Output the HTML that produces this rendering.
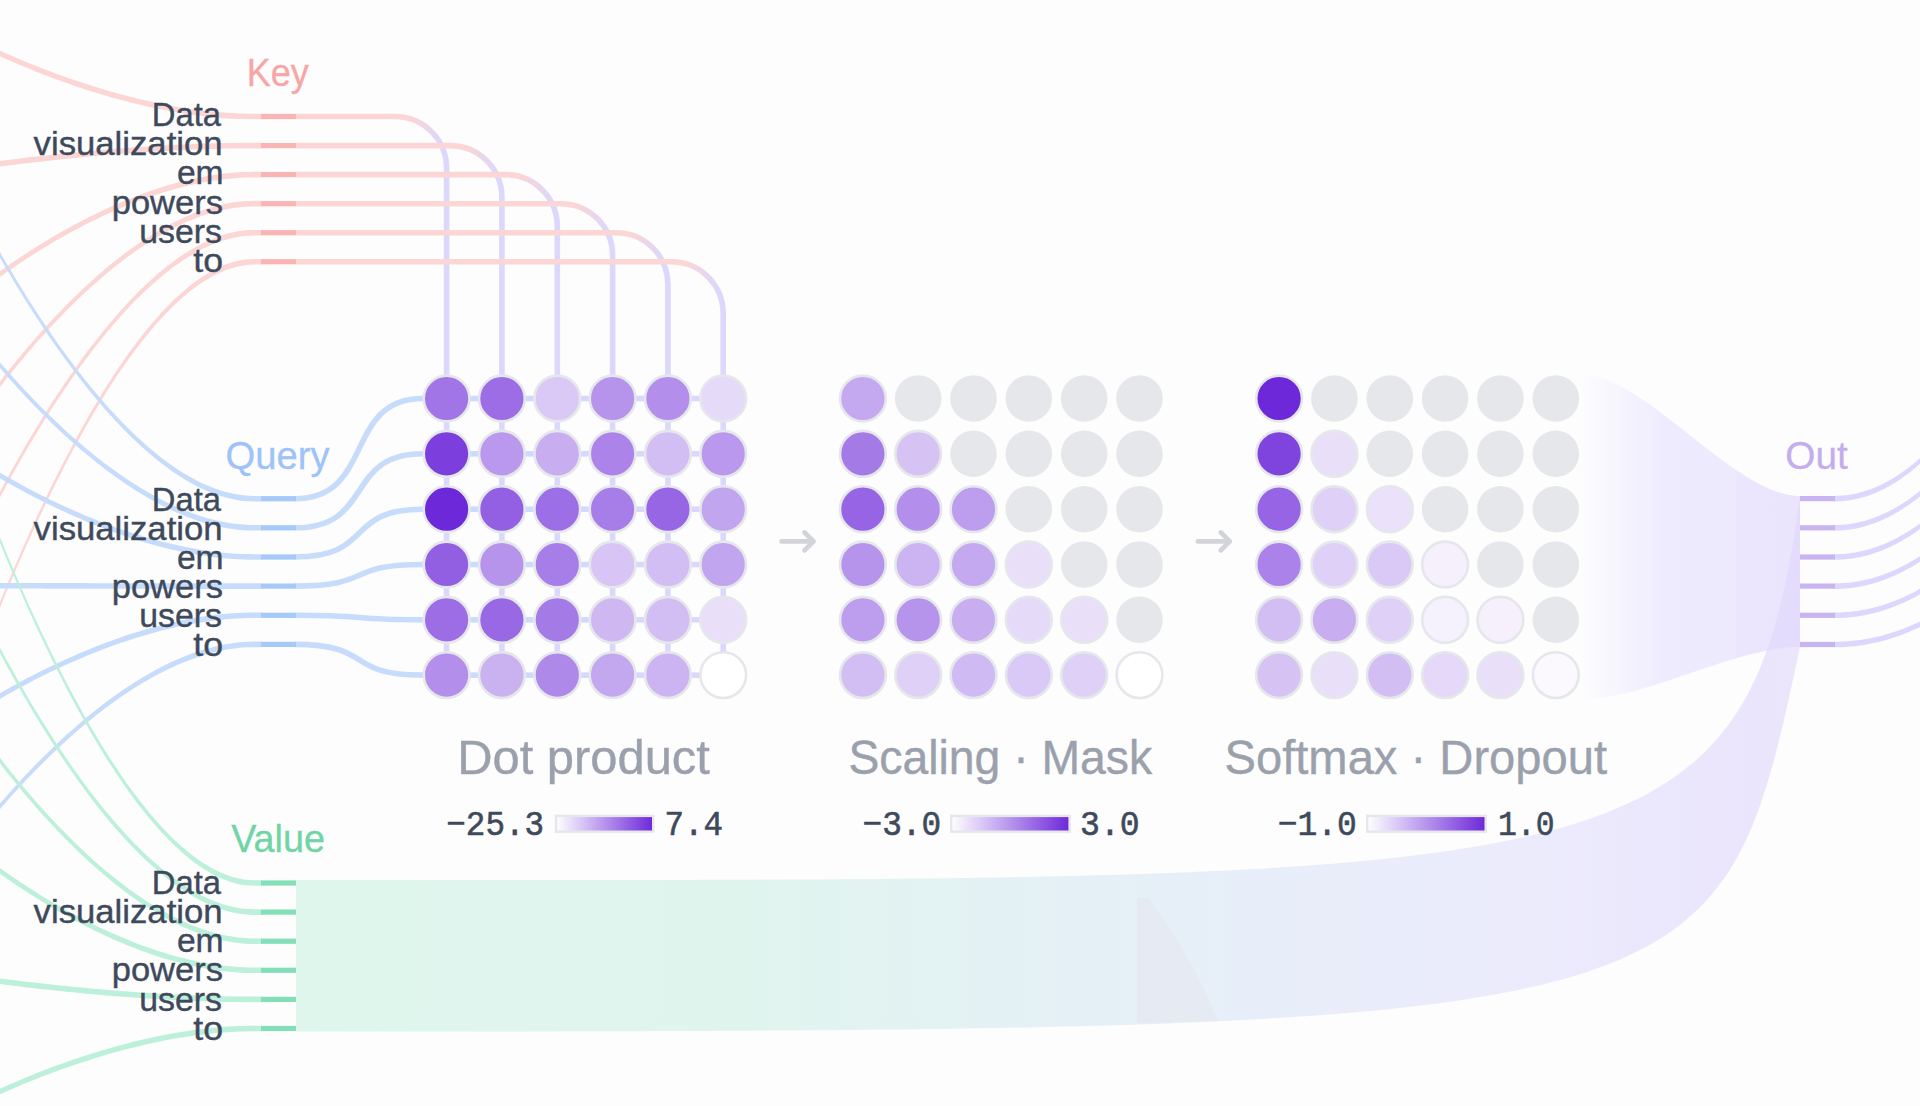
<!DOCTYPE html>
<html><head><meta charset="utf-8"><title>Attention</title><style>
html,body{margin:0;padding:0;background:#fdfdfd;overflow:hidden;}
svg{display:block;}
.tok{font-family:"Liberation Sans",sans-serif;font-size:33.3px;stroke-width:0.4px;}
.lbl{font-family:"Liberation Sans",sans-serif;font-size:39.1px;stroke-width:0.3px;}
.title{font-family:"Liberation Sans",sans-serif;font-size:48.8px;stroke-width:0.4px;}
.mono{font-family:"Liberation Mono",monospace;font-size:35px;stroke-width:0.6px;}
</style></head>
<body><svg width="1920" height="1106" viewBox="0 0 1920 1106">
<defs>
<linearGradient id="gSoft" x1="1580" y1="0" x2="1800" y2="0" gradientUnits="userSpaceOnUse">
 <stop offset="0" stop-color="#efebfe" stop-opacity="0"/>
 <stop offset="0.38" stop-color="#efebfe" stop-opacity="1"/>
 <stop offset="0.7" stop-color="#eeeafe" stop-opacity="1"/>
 <stop offset="0.72" stop-color="#ebe5fd" stop-opacity="1"/>
 <stop offset="1" stop-color="#eae4fd" stop-opacity="1"/>
</linearGradient>
<linearGradient id="gVal" x1="296" y1="0" x2="1800" y2="0" gradientUnits="userSpaceOnUse">
 <stop offset="0" stop-color="#ddf6ec" stop-opacity="0.95"/>
 <stop offset="0.3" stop-color="#dff4ee" stop-opacity="0.95"/>
 <stop offset="0.62" stop-color="#e6eef9" stop-opacity="0.95"/>
 <stop offset="0.85" stop-color="#ebe9fc" stop-opacity="0.95"/>
 <stop offset="1" stop-color="#dfd6fb" stop-opacity="0.6"/>
</linearGradient>
<linearGradient id="gLeg" x1="0" y1="0" x2="1" y2="0">
 <stop offset="0" stop-color="#ffffff"/>
 <stop offset="1" stop-color="#6d28d9"/>
</linearGradient>
<linearGradient id="gQrow" x1="0" y1="0" x2="1" y2="0">
 <stop offset="0" stop-color="#c7dcfb"/>
 <stop offset="1" stop-color="#dcd7fd"/>
</linearGradient>
<linearGradient id="gK0" x1="296" y1="0" x2="449.6" y2="0" gradientUnits="userSpaceOnUse">
 <stop offset="0" stop-color="#fcd5d5"/><stop offset="0.740" stop-color="#fcd5d5"/><stop offset="0.948" stop-color="#dcd7fd"/><stop offset="1" stop-color="#dcd7fd"/></linearGradient>
<linearGradient id="gK1" x1="296" y1="0" x2="504.9" y2="0" gradientUnits="userSpaceOnUse">
 <stop offset="0" stop-color="#fcd5d5"/><stop offset="0.809" stop-color="#fcd5d5"/><stop offset="0.962" stop-color="#dcd7fd"/><stop offset="1" stop-color="#dcd7fd"/></linearGradient>
<linearGradient id="gK2" x1="296" y1="0" x2="560.3" y2="0" gradientUnits="userSpaceOnUse">
 <stop offset="0" stop-color="#fcd5d5"/><stop offset="0.849" stop-color="#fcd5d5"/><stop offset="0.970" stop-color="#dcd7fd"/><stop offset="1" stop-color="#dcd7fd"/></linearGradient>
<linearGradient id="gK3" x1="296" y1="0" x2="615.6" y2="0" gradientUnits="userSpaceOnUse">
 <stop offset="0" stop-color="#fcd5d5"/><stop offset="0.875" stop-color="#fcd5d5"/><stop offset="0.975" stop-color="#dcd7fd"/><stop offset="1" stop-color="#dcd7fd"/></linearGradient>
<linearGradient id="gK4" x1="296" y1="0" x2="670.9" y2="0" gradientUnits="userSpaceOnUse">
 <stop offset="0" stop-color="#fcd5d5"/><stop offset="0.893" stop-color="#fcd5d5"/><stop offset="0.979" stop-color="#dcd7fd"/><stop offset="1" stop-color="#dcd7fd"/></linearGradient>
<linearGradient id="gK5" x1="296" y1="0" x2="726.2" y2="0" gradientUnits="userSpaceOnUse">
 <stop offset="0" stop-color="#fcd5d5"/><stop offset="0.907" stop-color="#fcd5d5"/><stop offset="0.981" stop-color="#dcd7fd"/><stop offset="1" stop-color="#dcd7fd"/></linearGradient>
</defs>
<rect width="1920" height="1106" fill="#fdfdfd"/>
<path d="M1580.0,374.4 L1583.4,374.5 L1586.8,374.8 L1590.2,375.3 L1593.7,376.0 L1597.2,376.9 L1600.8,377.9 L1604.3,379.1 L1608.0,380.5 L1611.6,382.0 L1615.2,383.7 L1618.9,385.5 L1622.6,387.4 L1626.4,389.5 L1630.1,391.7 L1633.9,394.0 L1637.7,396.4 L1641.5,398.9 L1645.3,401.4 L1649.1,404.1 L1653.0,406.8 L1656.9,409.6 L1660.7,412.5 L1664.6,415.4 L1668.5,418.4 L1672.4,421.4 L1676.3,424.4 L1680.2,427.5 L1684.1,430.6 L1688.0,433.7 L1692.0,436.7 L1695.9,439.8 L1699.8,442.9 L1703.7,446.0 L1707.6,449.0 L1711.5,452.0 L1715.4,455.0 L1719.3,457.9 L1723.1,460.8 L1727.0,463.6 L1730.9,466.3 L1734.7,469.0 L1738.5,471.5 L1742.3,474.0 L1746.1,476.4 L1749.9,478.7 L1753.6,480.9 L1757.4,483.0 L1761.1,484.9 L1764.8,486.7 L1768.4,488.4 L1772.0,489.9 L1775.7,491.3 L1779.2,492.5 L1782.8,493.5 L1786.3,494.4 L1789.8,495.1 L1793.2,495.6 L1796.6,495.9 L1800.0,496.0 L1800.0,647.1 L1796.6,647.1 L1793.2,647.3 L1789.8,647.5 L1786.3,647.8 L1782.8,648.2 L1779.2,648.6 L1775.7,649.1 L1772.0,649.7 L1768.4,650.4 L1764.8,651.1 L1761.1,651.9 L1757.4,652.7 L1753.6,653.6 L1749.9,654.6 L1746.1,655.5 L1742.3,656.6 L1738.5,657.6 L1734.7,658.8 L1730.9,659.9 L1727.0,661.1 L1723.1,662.3 L1719.3,663.5 L1715.4,664.8 L1711.5,666.1 L1707.6,667.4 L1703.7,668.7 L1699.8,670.0 L1695.9,671.3 L1692.0,672.6 L1688.0,674.0 L1684.1,675.3 L1680.2,676.6 L1676.3,677.9 L1672.4,679.2 L1668.5,680.5 L1664.6,681.8 L1660.7,683.1 L1656.9,684.3 L1653.0,685.5 L1649.1,686.7 L1645.3,687.8 L1641.5,689.0 L1637.7,690.0 L1633.9,691.1 L1630.1,692.0 L1626.4,693.0 L1622.6,693.9 L1618.9,694.7 L1615.2,695.5 L1611.6,696.2 L1608.0,696.9 L1604.3,697.5 L1600.8,698.0 L1597.2,698.4 L1593.7,698.8 L1590.2,699.1 L1586.8,699.3 L1583.4,699.5 L1580.0,699.5Z" fill="url(#gSoft)"/>
<path d="M296.0,880.0 L321.0,880.0 L345.7,880.0 L370.1,880.0 L394.2,880.0 L418.1,880.0 L441.6,880.0 L464.9,880.0 L487.9,880.0 L510.7,880.0 L533.1,880.0 L555.3,880.0 L577.2,880.0 L598.9,880.0 L620.3,880.0 L641.4,880.0 L662.3,879.9 L682.9,879.9 L703.3,879.8 L723.3,879.8 L743.2,879.7 L762.8,879.6 L782.1,879.6 L801.2,879.5 L820.0,879.4 L838.6,879.2 L856.9,879.1 L875.0,879.0 L892.9,878.8 L910.5,878.6 L927.9,878.4 L945.0,878.2 L961.9,878.0 L978.6,877.8 L995.1,877.5 L1011.3,877.2 L1027.3,876.9 L1043.0,876.6 L1058.6,876.3 L1073.9,875.9 L1089.0,875.5 L1103.8,875.1 L1118.5,874.7 L1132.9,874.3 L1147.2,873.8 L1161.2,873.3 L1175.0,872.8 L1188.6,872.2 L1202.0,871.6 L1215.1,871.0 L1228.1,870.4 L1240.9,869.8 L1253.5,869.1 L1265.8,868.4 L1278.0,867.6 L1290.0,866.8 L1301.8,866.0 L1313.4,865.2 L1324.8,864.3 L1336.0,863.4 L1347.0,862.5 L1357.9,861.5 L1368.6,860.5 L1379.0,859.4 L1389.3,858.3 L1399.5,857.2 L1409.4,856.0 L1419.2,854.8 L1428.8,853.6 L1438.2,852.3 L1447.5,851.0 L1456.6,849.6 L1465.5,848.2 L1474.2,846.8 L1482.8,845.3 L1491.3,843.8 L1499.5,842.2 L1507.7,840.6 L1515.6,838.9 L1523.4,837.2 L1531.1,835.5 L1538.6,833.7 L1546.0,831.8 L1553.2,829.9 L1560.2,828.0 L1567.1,826.0 L1573.9,823.9 L1580.6,821.8 L1587.1,819.7 L1593.4,817.5 L1599.6,815.2 L1605.7,812.9 L1611.7,810.5 L1617.5,808.1 L1623.2,805.6 L1628.8,803.1 L1634.2,800.5 L1639.6,797.9 L1644.8,795.2 L1649.9,792.4 L1654.8,789.6 L1659.7,786.7 L1664.4,783.8 L1669.0,780.8 L1673.5,777.7 L1677.9,774.6 L1682.2,771.4 L1686.4,768.1 L1690.5,764.8 L1694.5,761.4 L1698.3,758.0 L1702.1,754.5 L1705.8,750.9 L1709.4,747.2 L1712.9,743.5 L1716.3,739.7 L1719.6,735.9 L1722.8,732.0 L1725.9,728.0 L1729.0,723.9 L1731.9,719.8 L1734.8,715.6 L1737.6,711.3 L1740.3,706.9 L1743.0,702.5 L1745.5,698.0 L1748.0,693.4 L1750.4,688.8 L1752.8,684.1 L1755.1,679.2 L1757.3,674.4 L1759.4,669.4 L1761.5,664.4 L1763.5,659.2 L1765.5,654.0 L1767.4,648.7 L1769.2,643.4 L1771.0,637.9 L1772.8,632.4 L1774.4,626.8 L1776.1,621.1 L1777.7,615.3 L1779.2,609.4 L1780.7,603.5 L1782.2,597.4 L1783.6,591.3 L1785.0,585.1 L1786.3,578.8 L1787.6,572.4 L1788.9,565.9 L1790.1,559.3 L1791.3,552.7 L1792.5,545.9 L1793.6,539.1 L1794.7,532.1 L1795.8,525.1 L1796.9,518.0 L1798.0,510.7 L1799.0,503.4 L1800.0,496.0 L1800.0,647.1 L1798.5,654.2 L1796.9,661.3 L1795.4,668.3 L1794.0,675.1 L1792.5,681.9 L1791.0,688.6 L1789.6,695.3 L1788.1,701.8 L1786.6,708.2 L1785.2,714.6 L1783.7,720.9 L1782.3,727.1 L1780.8,733.2 L1779.3,739.2 L1777.8,745.2 L1776.3,751.0 L1774.8,756.8 L1773.3,762.5 L1771.7,768.1 L1770.1,773.7 L1768.5,779.2 L1766.9,784.6 L1765.2,789.9 L1763.5,795.1 L1761.8,800.3 L1760.1,805.4 L1758.2,810.4 L1756.4,815.3 L1754.5,820.2 L1752.6,824.9 L1750.6,829.7 L1748.6,834.3 L1746.5,838.9 L1744.4,843.4 L1742.2,847.8 L1739.9,852.2 L1737.6,856.5 L1735.2,860.7 L1732.8,864.8 L1730.3,868.9 L1727.7,872.9 L1725.1,876.9 L1722.3,880.8 L1719.5,884.6 L1716.7,888.3 L1713.7,892.0 L1710.6,895.7 L1707.5,899.2 L1704.3,902.7 L1701.0,906.1 L1697.6,909.5 L1694.1,912.8 L1690.5,916.1 L1686.8,919.3 L1683.0,922.4 L1679.1,925.5 L1675.1,928.5 L1671.0,931.5 L1666.7,934.4 L1662.4,937.2 L1657.9,940.0 L1653.4,942.7 L1648.7,945.4 L1643.8,948.0 L1638.9,950.6 L1633.8,953.1 L1628.6,955.6 L1623.3,958.0 L1617.9,960.4 L1612.3,962.7 L1606.5,964.9 L1600.6,967.1 L1594.6,969.3 L1588.5,971.4 L1582.2,973.5 L1575.7,975.5 L1569.1,977.5 L1562.3,979.4 L1555.4,981.3 L1548.3,983.1 L1541.1,984.9 L1533.7,986.6 L1526.1,988.3 L1518.4,990.0 L1510.5,991.6 L1502.4,993.1 L1494.2,994.7 L1485.7,996.1 L1477.1,997.6 L1468.3,999.0 L1459.4,1000.4 L1450.2,1001.7 L1440.9,1003.0 L1431.3,1004.2 L1421.6,1005.4 L1411.7,1006.6 L1401.6,1007.8 L1391.3,1008.9 L1380.8,1009.9 L1370.0,1011.0 L1359.1,1012.0 L1348.0,1012.9 L1336.6,1013.9 L1325.1,1014.8 L1313.3,1015.7 L1301.3,1016.5 L1289.1,1017.3 L1276.7,1018.1 L1264.0,1018.9 L1251.2,1019.6 L1238.1,1020.3 L1224.7,1020.9 L1211.1,1021.6 L1197.3,1022.2 L1183.3,1022.8 L1169.0,1023.4 L1154.5,1023.9 L1139.7,1024.4 L1124.7,1024.9 L1109.4,1025.4 L1093.9,1025.8 L1078.2,1026.2 L1062.1,1026.6 L1045.8,1027.0 L1029.3,1027.4 L1012.5,1027.7 L995.4,1028.0 L978.1,1028.3 L960.5,1028.6 L942.6,1028.9 L924.5,1029.1 L906.0,1029.4 L887.3,1029.6 L868.3,1029.8 L849.1,1030.0 L829.5,1030.2 L809.7,1030.3 L789.6,1030.5 L769.1,1030.6 L748.4,1030.7 L727.4,1030.8 L706.1,1030.9 L684.5,1031.0 L662.6,1031.1 L640.4,1031.2 L617.8,1031.2 L595.0,1031.3 L571.9,1031.3 L548.4,1031.4 L524.6,1031.4 L500.5,1031.4 L476.1,1031.4 L451.4,1031.5 L426.3,1031.5 L400.9,1031.5 L375.2,1031.5 L349.1,1031.5 L322.7,1031.5 L296.0,1031.5Z" fill="url(#gVal)"/>
<path d="M1137,898 L1148,898 C1170,925 1200,975 1218,1021 L1137,1023 Z" fill="#e4e6ee" opacity="0.55"/>
<path d="M-39.3,31.4 L-39.3,31.5 L-39.1,31.6 L-38.7,31.8 L-38.2,32.1 L-37.6,32.4 L-36.8,32.8 L-36.0,33.3 L-34.9,33.8 L-33.8,34.4 L-32.5,35.1 L-31.1,35.8 L-29.6,36.6 L-28.0,37.4 L-26.2,38.3 L-24.3,39.2 L-22.3,40.2 L-20.2,41.2 L-18.0,42.3 L-15.7,43.4 L-13.3,44.6 L-10.7,45.8 L-8.1,47.0 L-5.3,48.3 L-2.5,49.6 L0.5,50.9 L3.5,52.3 L6.6,53.7 L9.9,55.1 L13.2,56.6 L16.6,58.0 L20.1,59.5 L23.7,61.0 L27.3,62.5 L31.1,64.0 L34.9,65.6 L38.8,67.1 L42.8,68.7 L46.9,70.2 L51.0,71.8 L55.2,73.4 L59.5,74.9 L63.8,76.5 L68.2,78.0 L72.7,79.6 L77.2,81.1 L81.8,82.6 L86.4,84.1 L91.1,85.6 L95.9,87.1 L100.7,88.6 L105.5,90.0 L110.4,91.4 L115.4,92.8 L120.4,94.2 L125.4,95.5 L130.5,96.8 L135.6,98.1 L140.8,99.4 L146.0,100.6 L151.2,101.7 L156.5,102.8 L161.7,103.9 L167.1,104.9 L172.4,105.9 L177.8,106.9 L183.2,107.8 L188.6,108.6 L194.0,109.4 L199.4,110.1 L204.9,110.7 L210.4,111.3 L215.9,111.9 L221.3,112.3 L226.9,112.8 L232.4,113.1 L237.9,113.4 L243.4,113.5 L248.9,113.7 L254.4,113.7 L262.0,113.7 L262.0,119.3 L254.4,119.3 L248.9,119.3 L243.4,119.1 L237.9,119.0 L232.4,118.7 L226.9,118.4 L221.3,117.9 L215.9,117.5 L210.4,116.9 L204.9,116.3 L199.4,115.7 L194.0,115.0 L188.6,114.2 L183.2,113.4 L177.8,112.5 L172.4,111.5 L167.1,110.5 L161.7,109.5 L156.5,108.4 L151.2,107.3 L146.0,106.2 L140.8,105.0 L135.6,103.7 L130.5,102.4 L125.4,101.1 L120.4,99.8 L115.4,98.4 L110.4,97.0 L105.5,95.6 L100.7,94.2 L95.9,92.7 L91.1,91.2 L86.4,89.7 L81.8,88.2 L77.2,86.7 L72.7,85.2 L68.2,83.6 L63.8,82.1 L59.5,80.5 L55.2,79.0 L51.0,77.4 L46.9,75.8 L42.8,74.3 L38.8,72.7 L34.9,71.2 L31.1,69.6 L27.3,68.1 L23.7,66.6 L20.1,65.1 L16.6,63.6 L13.2,62.2 L9.9,60.7 L6.6,59.3 L3.5,57.9 L0.5,56.5 L-2.5,55.2 L-5.3,53.9 L-8.1,52.6 L-10.7,51.4 L-13.3,50.2 L-15.7,49.0 L-18.0,47.9 L-20.2,46.8 L-22.3,45.8 L-24.3,44.8 L-26.2,43.9 L-28.0,43.0 L-29.6,42.2 L-31.1,41.4 L-32.5,40.7 L-33.8,40.0 L-34.9,39.4 L-36.0,38.9 L-36.8,38.4 L-37.6,38.0 L-38.2,37.7 L-38.7,37.4 L-39.1,37.2 L-39.3,37.1 L-39.3,37.0Z" fill="#fcd5d5"/>
<path d="M-39.3,166.6 L-39.3,166.6 L-39.1,166.5 L-38.7,166.5 L-38.2,166.4 L-37.6,166.3 L-36.8,166.2 L-36.0,166.1 L-34.9,165.9 L-33.8,165.7 L-32.5,165.5 L-31.1,165.3 L-29.6,165.1 L-28.0,164.9 L-26.2,164.6 L-24.3,164.3 L-22.3,164.1 L-20.2,163.8 L-18.0,163.4 L-15.7,163.1 L-13.3,162.8 L-10.7,162.4 L-8.1,162.1 L-5.3,161.7 L-2.5,161.3 L0.5,160.9 L3.5,160.5 L6.6,160.1 L9.9,159.7 L13.2,159.3 L16.6,158.9 L20.1,158.5 L23.7,158.0 L27.3,157.6 L31.1,157.1 L34.9,156.7 L38.8,156.3 L42.8,155.8 L46.9,155.4 L51.0,154.9 L55.2,154.4 L59.5,154.0 L63.8,153.5 L68.2,153.1 L72.7,152.6 L77.2,152.2 L81.8,151.8 L86.4,151.3 L91.1,150.9 L95.9,150.5 L100.7,150.0 L105.5,149.6 L110.4,149.2 L115.4,148.8 L120.4,148.4 L125.4,148.0 L130.5,147.6 L135.6,147.3 L140.8,146.9 L146.0,146.6 L151.2,146.2 L156.5,145.9 L161.7,145.6 L167.1,145.3 L172.4,145.0 L177.8,144.7 L183.2,144.5 L188.6,144.2 L194.0,144.0 L199.4,143.8 L204.9,143.6 L210.4,143.4 L215.9,143.3 L221.3,143.1 L226.9,143.0 L232.4,142.9 L237.9,142.9 L243.4,142.8 L248.9,142.8 L254.4,142.8 L262.0,142.8 L262.0,148.4 L254.4,148.4 L248.9,148.4 L243.4,148.4 L237.9,148.5 L232.4,148.5 L226.9,148.6 L221.3,148.7 L215.9,148.9 L210.4,149.0 L204.9,149.2 L199.4,149.4 L194.0,149.6 L188.6,149.8 L183.2,150.1 L177.8,150.3 L172.4,150.6 L167.1,150.9 L161.7,151.2 L156.5,151.5 L151.2,151.8 L146.0,152.2 L140.8,152.5 L135.6,152.9 L130.5,153.2 L125.4,153.6 L120.4,154.0 L115.4,154.4 L110.4,154.8 L105.5,155.2 L100.7,155.6 L95.9,156.1 L91.1,156.5 L86.4,156.9 L81.8,157.4 L77.2,157.8 L72.7,158.2 L68.2,158.7 L63.8,159.1 L59.5,159.6 L55.2,160.0 L51.0,160.5 L46.9,161.0 L42.8,161.4 L38.8,161.9 L34.9,162.3 L31.1,162.7 L27.3,163.2 L23.7,163.6 L20.1,164.1 L16.6,164.5 L13.2,164.9 L9.9,165.3 L6.6,165.7 L3.5,166.1 L0.5,166.5 L-2.5,166.9 L-5.3,167.3 L-8.1,167.7 L-10.7,168.0 L-13.3,168.4 L-15.7,168.7 L-18.0,169.0 L-20.2,169.4 L-22.3,169.7 L-24.3,169.9 L-26.2,170.2 L-28.0,170.5 L-29.6,170.7 L-31.1,170.9 L-32.5,171.1 L-33.8,171.3 L-34.9,171.5 L-36.0,171.7 L-36.8,171.8 L-37.6,171.9 L-38.2,172.0 L-38.7,172.1 L-39.1,172.1 L-39.3,172.2 L-39.3,172.2Z" fill="#fcd5d5"/>
<path d="M-39.3,301.7 L-39.3,301.7 L-39.1,301.5 L-38.7,301.2 L-38.2,300.8 L-37.6,300.3 L-36.8,299.6 L-36.0,298.9 L-34.9,298.0 L-33.8,297.1 L-32.5,296.0 L-31.1,294.9 L-29.6,293.7 L-28.0,292.3 L-26.2,291.0 L-24.3,289.5 L-22.3,287.9 L-20.2,286.3 L-18.0,284.6 L-15.7,282.8 L-13.3,281.0 L-10.7,279.1 L-8.1,277.1 L-5.3,275.1 L-2.5,273.1 L0.5,270.9 L3.5,268.8 L6.6,266.6 L9.9,264.3 L13.2,262.1 L16.6,259.8 L20.1,257.4 L23.7,255.1 L27.3,252.7 L31.1,250.3 L34.9,247.8 L38.8,245.4 L42.8,242.9 L46.9,240.5 L51.0,238.0 L55.2,235.5 L59.5,233.1 L63.8,230.6 L68.2,228.2 L72.7,225.7 L77.2,223.3 L81.8,220.9 L86.4,218.5 L91.1,216.1 L95.9,213.8 L100.7,211.5 L105.5,209.2 L110.4,207.0 L115.4,204.8 L120.4,202.6 L125.4,200.5 L130.5,198.4 L135.6,196.4 L140.8,194.5 L146.0,192.6 L151.2,190.7 L156.5,189.0 L161.7,187.3 L167.1,185.6 L172.4,184.1 L177.8,182.6 L183.2,181.2 L188.6,179.9 L194.0,178.7 L199.4,177.5 L204.9,176.5 L210.4,175.5 L215.9,174.7 L221.3,173.9 L226.9,173.3 L232.4,172.8 L237.9,172.3 L243.4,172.0 L248.9,171.9 L254.4,171.8 L262.0,171.8 L262.0,177.4 L254.4,177.4 L248.9,177.5 L243.4,177.6 L237.9,177.9 L232.4,178.4 L226.9,178.9 L221.3,179.5 L215.9,180.3 L210.4,181.1 L204.9,182.1 L199.4,183.1 L194.0,184.3 L188.6,185.5 L183.2,186.8 L177.8,188.2 L172.4,189.7 L167.1,191.2 L161.7,192.9 L156.5,194.6 L151.2,196.3 L146.0,198.2 L140.8,200.1 L135.6,202.0 L130.5,204.0 L125.4,206.1 L120.4,208.2 L115.4,210.4 L110.4,212.6 L105.5,214.8 L100.7,217.1 L95.9,219.4 L91.1,221.7 L86.4,224.1 L81.8,226.5 L77.2,228.9 L72.7,231.3 L68.2,233.8 L63.8,236.2 L59.5,238.7 L55.2,241.1 L51.0,243.6 L46.9,246.1 L42.8,248.5 L38.8,251.0 L34.9,253.4 L31.1,255.9 L27.3,258.3 L23.7,260.7 L20.1,263.0 L16.6,265.4 L13.2,267.7 L9.9,269.9 L6.6,272.2 L3.5,274.4 L0.5,276.5 L-2.5,278.7 L-5.3,280.7 L-8.1,282.7 L-10.7,284.7 L-13.3,286.6 L-15.7,288.4 L-18.0,290.2 L-20.2,291.9 L-22.3,293.5 L-24.3,295.1 L-26.2,296.6 L-28.0,297.9 L-29.6,299.3 L-31.1,300.5 L-32.5,301.6 L-33.8,302.7 L-34.9,303.6 L-36.0,304.5 L-36.8,305.2 L-37.6,305.9 L-38.2,306.4 L-38.7,306.8 L-39.1,307.1 L-39.3,307.3 L-39.3,307.3Z" fill="#fcd5d5"/>
<path d="M-39.3,436.9 L-39.3,436.8 L-39.1,436.5 L-38.7,435.9 L-38.2,435.1 L-37.6,434.2 L-36.8,433.0 L-36.0,431.7 L-34.9,430.1 L-33.8,428.4 L-32.5,426.5 L-31.1,424.4 L-29.6,422.2 L-28.0,419.8 L-26.2,417.3 L-24.3,414.6 L-22.3,411.8 L-20.2,408.8 L-18.0,405.7 L-15.7,402.5 L-13.3,399.2 L-10.7,395.7 L-8.1,392.2 L-5.3,388.5 L-2.5,384.8 L0.5,380.9 L3.5,377.0 L6.6,373.0 L9.9,369.0 L13.2,364.8 L16.6,360.6 L20.1,356.4 L23.7,352.1 L27.3,347.7 L31.1,343.4 L34.9,339.0 L38.8,334.5 L42.8,330.1 L46.9,325.6 L51.0,321.1 L55.2,316.6 L59.5,312.2 L63.8,307.7 L68.2,303.2 L72.7,298.8 L77.2,294.4 L81.8,290.0 L86.4,285.7 L91.1,281.4 L95.9,277.1 L100.7,272.9 L105.5,268.8 L110.4,264.7 L115.4,260.7 L120.4,256.8 L125.4,253.0 L130.5,249.2 L135.6,245.6 L140.8,242.0 L146.0,238.6 L151.2,235.2 L156.5,232.0 L161.7,228.9 L167.1,226.0 L172.4,223.1 L177.8,220.5 L183.2,217.9 L188.6,215.5 L194.0,213.3 L199.4,211.2 L204.9,209.3 L210.4,207.6 L215.9,206.1 L221.3,204.7 L226.9,203.6 L232.4,202.6 L237.9,201.8 L243.4,201.3 L248.9,201.0 L254.4,200.8 L262.0,200.8 L262.0,206.5 L254.4,206.5 L248.9,206.6 L243.4,206.9 L237.9,207.4 L232.4,208.2 L226.9,209.2 L221.3,210.3 L215.9,211.7 L210.4,213.2 L204.9,214.9 L199.4,216.8 L194.0,218.9 L188.6,221.1 L183.2,223.5 L177.8,226.1 L172.4,228.7 L167.1,231.6 L161.7,234.5 L156.5,237.6 L151.2,240.8 L146.0,244.2 L140.8,247.6 L135.6,251.2 L130.5,254.8 L125.4,258.6 L120.4,262.4 L115.4,266.3 L110.4,270.3 L105.5,274.4 L100.7,278.5 L95.9,282.7 L91.1,287.0 L86.4,291.3 L81.8,295.6 L77.2,300.0 L72.7,304.4 L68.2,308.8 L63.8,313.3 L59.5,317.8 L55.2,322.2 L51.0,326.7 L46.9,331.2 L42.8,335.7 L38.8,340.1 L34.9,344.6 L31.1,349.0 L27.3,353.3 L23.7,357.7 L20.1,362.0 L16.6,366.2 L13.2,370.4 L9.9,374.6 L6.6,378.6 L3.5,382.6 L0.5,386.5 L-2.5,390.4 L-5.3,394.1 L-8.1,397.8 L-10.7,401.3 L-13.3,404.8 L-15.7,408.1 L-18.0,411.3 L-20.2,414.4 L-22.3,417.4 L-24.3,420.2 L-26.2,422.9 L-28.0,425.4 L-29.6,427.8 L-31.1,430.0 L-32.5,432.1 L-33.8,434.0 L-34.9,435.7 L-36.0,437.3 L-36.8,438.6 L-37.6,439.8 L-38.2,440.7 L-38.7,441.5 L-39.1,442.1 L-39.3,442.4 L-39.3,442.5Z" fill="#fcd5d5"/>
<path d="M-39.3,572.1 L-39.3,571.9 L-39.1,571.4 L-38.7,570.6 L-38.2,569.5 L-37.6,568.1 L-36.8,566.4 L-36.0,564.5 L-34.9,562.2 L-33.8,559.7 L-32.5,557.0 L-31.1,554.0 L-29.6,550.8 L-28.0,547.3 L-26.2,543.6 L-24.3,539.7 L-22.3,535.6 L-20.2,531.3 L-18.0,526.9 L-15.7,522.2 L-13.3,517.4 L-10.7,512.4 L-8.1,507.2 L-5.3,501.9 L-2.5,496.5 L0.5,490.9 L3.5,485.3 L6.6,479.5 L9.9,473.6 L13.2,467.6 L16.6,461.5 L20.1,455.3 L23.7,449.1 L27.3,442.8 L31.1,436.5 L34.9,430.1 L38.8,423.7 L42.8,417.2 L46.9,410.7 L51.0,404.2 L55.2,397.7 L59.5,391.2 L63.8,384.8 L68.2,378.3 L72.7,371.9 L77.2,365.5 L81.8,359.1 L86.4,352.8 L91.1,346.6 L95.9,340.4 L100.7,334.4 L105.5,328.4 L110.4,322.5 L115.4,316.7 L120.4,311.0 L125.4,305.4 L130.5,300.0 L135.6,294.7 L140.8,289.6 L146.0,284.6 L151.2,279.8 L156.5,275.1 L161.7,270.6 L167.1,266.3 L172.4,262.2 L177.8,258.3 L183.2,254.6 L188.6,251.2 L194.0,248.0 L199.4,245.0 L204.9,242.2 L210.4,239.7 L215.9,237.5 L221.3,235.5 L226.9,233.8 L232.4,232.4 L237.9,231.3 L243.4,230.5 L248.9,230.1 L254.4,229.9 L262.0,229.9 L262.0,235.5 L254.4,235.5 L248.9,235.7 L243.4,236.1 L237.9,236.9 L232.4,238.0 L226.9,239.4 L221.3,241.1 L215.9,243.1 L210.4,245.3 L204.9,247.8 L199.4,250.6 L194.0,253.6 L188.6,256.8 L183.2,260.2 L177.8,263.9 L172.4,267.8 L167.1,271.9 L161.7,276.2 L156.5,280.7 L151.2,285.4 L146.0,290.2 L140.8,295.2 L135.6,300.3 L130.5,305.6 L125.4,311.0 L120.4,316.6 L115.4,322.3 L110.4,328.1 L105.5,334.0 L100.7,340.0 L95.9,346.0 L91.1,352.2 L86.4,358.4 L81.8,364.7 L77.2,371.1 L72.7,377.5 L68.2,383.9 L63.8,390.4 L59.5,396.8 L55.2,403.3 L51.0,409.8 L46.9,416.3 L42.8,422.8 L38.8,429.3 L34.9,435.7 L31.1,442.1 L27.3,448.4 L23.7,454.7 L20.1,460.9 L16.6,467.1 L13.2,473.2 L9.9,479.2 L6.6,485.1 L3.5,490.9 L0.5,496.5 L-2.5,502.1 L-5.3,507.5 L-8.1,512.8 L-10.7,518.0 L-13.3,523.0 L-15.7,527.8 L-18.0,532.5 L-20.2,536.9 L-22.3,541.2 L-24.3,545.3 L-26.2,549.2 L-28.0,552.9 L-29.6,556.4 L-31.1,559.6 L-32.5,562.6 L-33.8,565.3 L-34.9,567.8 L-36.0,570.1 L-36.8,572.0 L-37.6,573.7 L-38.2,575.1 L-38.7,576.2 L-39.1,577.0 L-39.3,577.5 L-39.3,577.7Z" fill="#fcd5d5"/>
<path d="M-39.3,707.2 L-39.3,707.0 L-39.1,706.4 L-38.7,705.3 L-38.2,703.9 L-37.6,702.0 L-36.8,699.8 L-36.0,697.3 L-34.9,694.3 L-33.8,691.1 L-32.5,687.5 L-31.1,683.6 L-29.6,679.3 L-28.0,674.8 L-26.2,670.0 L-24.3,664.9 L-22.3,659.5 L-20.2,653.9 L-18.0,648.0 L-15.7,641.9 L-13.3,635.6 L-10.7,629.0 L-8.1,622.3 L-5.3,615.3 L-2.5,608.2 L0.5,600.9 L3.5,593.5 L6.6,585.9 L9.9,578.2 L13.2,570.3 L16.6,562.4 L20.1,554.3 L23.7,546.1 L27.3,537.9 L31.1,529.6 L34.9,521.2 L38.8,512.8 L42.8,504.3 L46.9,495.8 L51.0,487.3 L55.2,478.8 L59.5,470.3 L63.8,461.8 L68.2,453.4 L72.7,444.9 L77.2,436.6 L81.8,428.3 L86.4,420.0 L91.1,411.8 L95.9,403.8 L100.7,395.8 L105.5,388.0 L110.4,380.2 L115.4,372.7 L120.4,365.2 L125.4,357.9 L130.5,350.8 L135.6,343.9 L140.8,337.1 L146.0,330.6 L151.2,324.3 L156.5,318.2 L161.7,312.3 L167.1,306.7 L172.4,301.3 L177.8,296.2 L183.2,291.4 L188.6,286.8 L194.0,282.6 L199.4,278.7 L204.9,275.1 L210.4,271.8 L215.9,268.9 L221.3,266.3 L226.9,264.1 L232.4,262.3 L237.9,260.8 L243.4,259.8 L248.9,259.2 L254.4,258.9 L262.0,258.9 L262.0,264.6 L254.4,264.6 L248.9,264.8 L243.4,265.4 L237.9,266.4 L232.4,267.9 L226.9,269.7 L221.3,271.9 L215.9,274.5 L210.4,277.4 L204.9,280.7 L199.4,284.3 L194.0,288.2 L188.6,292.4 L183.2,297.0 L177.8,301.8 L172.4,306.9 L167.1,312.3 L161.7,317.9 L156.5,323.8 L151.2,329.9 L146.0,336.2 L140.8,342.7 L135.6,349.5 L130.5,356.4 L125.4,363.5 L120.4,370.8 L115.4,378.3 L110.4,385.8 L105.5,393.6 L100.7,401.4 L95.9,409.4 L91.1,417.4 L86.4,425.6 L81.8,433.9 L77.2,442.2 L72.7,450.5 L68.2,459.0 L63.8,467.4 L59.5,475.9 L55.2,484.4 L51.0,492.9 L46.9,501.4 L42.8,509.9 L38.8,518.4 L34.9,526.8 L31.1,535.2 L27.3,543.5 L23.7,551.7 L20.1,559.9 L16.6,568.0 L13.2,575.9 L9.9,583.8 L6.6,591.5 L3.5,599.1 L0.5,606.5 L-2.5,613.8 L-5.3,620.9 L-8.1,627.9 L-10.7,634.6 L-13.3,641.2 L-15.7,647.5 L-18.0,653.6 L-20.2,659.5 L-22.3,665.1 L-24.3,670.5 L-26.2,675.6 L-28.0,680.4 L-29.6,684.9 L-31.1,689.2 L-32.5,693.1 L-33.8,696.7 L-34.9,699.9 L-36.0,702.9 L-36.8,705.4 L-37.6,707.6 L-38.2,709.5 L-38.7,710.9 L-39.1,712.0 L-39.3,712.6 L-39.3,712.8Z" fill="#fcd5d5"/>
<path d="M-39.3,177.4 L-39.3,177.5 L-39.1,178.0 L-38.7,178.7 L-38.2,179.7 L-37.6,181.0 L-36.8,182.6 L-36.0,184.4 L-34.9,186.5 L-33.8,188.8 L-32.5,191.4 L-31.1,194.2 L-29.6,197.2 L-28.0,200.4 L-26.2,203.8 L-24.3,207.5 L-22.3,211.3 L-20.2,215.3 L-18.0,219.4 L-15.7,223.8 L-13.3,228.3 L-10.7,232.9 L-8.1,237.7 L-5.3,242.6 L-2.5,247.7 L0.5,252.9 L3.5,258.2 L6.6,263.6 L9.9,269.0 L13.2,274.6 L16.6,280.3 L20.1,286.0 L23.7,291.8 L27.3,297.7 L31.1,303.6 L34.9,309.5 L38.8,315.5 L42.8,321.5 L46.9,327.6 L51.0,333.6 L55.2,339.7 L59.5,345.7 L63.8,351.7 L68.2,357.7 L72.7,363.7 L77.2,369.7 L81.8,375.6 L86.4,381.4 L91.1,387.2 L95.9,393.0 L100.7,398.6 L105.5,404.2 L110.4,409.7 L115.4,415.1 L120.4,420.4 L125.4,425.6 L130.5,430.6 L135.6,435.5 L140.8,440.3 L146.0,445.0 L151.2,449.5 L156.5,453.8 L161.7,458.0 L167.1,462.0 L172.4,465.8 L177.8,469.4 L183.2,472.9 L188.6,476.1 L194.0,479.1 L199.4,481.9 L204.9,484.4 L210.4,486.8 L215.9,488.8 L221.3,490.7 L226.9,492.2 L232.4,493.5 L237.9,494.6 L243.4,495.3 L248.9,495.7 L254.4,495.9 L262.0,495.9 L262.0,501.5 L254.4,501.5 L248.9,501.3 L243.4,500.9 L237.9,500.2 L232.4,499.1 L226.9,497.8 L221.3,496.3 L215.9,494.4 L210.4,492.4 L204.9,490.0 L199.4,487.5 L194.0,484.7 L188.6,481.7 L183.2,478.5 L177.8,475.0 L172.4,471.4 L167.1,467.6 L161.7,463.6 L156.5,459.4 L151.2,455.1 L146.0,450.6 L140.8,445.9 L135.6,441.1 L130.5,436.2 L125.4,431.2 L120.4,426.0 L115.4,420.7 L110.4,415.3 L105.5,409.8 L100.7,404.2 L95.9,398.6 L91.1,392.8 L86.4,387.0 L81.8,381.2 L77.2,375.3 L72.7,369.3 L68.2,363.3 L63.8,357.3 L59.5,351.3 L55.2,345.3 L51.0,339.2 L46.9,333.2 L42.8,327.1 L38.8,321.1 L34.9,315.1 L31.1,309.2 L27.3,303.3 L23.7,297.4 L20.1,291.6 L16.6,285.9 L13.2,280.2 L9.9,274.6 L6.6,269.2 L3.5,263.8 L0.5,258.5 L-2.5,253.3 L-5.3,248.2 L-8.1,243.3 L-10.7,238.5 L-13.3,233.9 L-15.7,229.4 L-18.0,225.0 L-20.2,220.9 L-22.3,216.9 L-24.3,213.1 L-26.2,209.4 L-28.0,206.0 L-29.6,202.8 L-31.1,199.8 L-32.5,197.0 L-33.8,194.4 L-34.9,192.1 L-36.0,190.0 L-36.8,188.2 L-37.6,186.6 L-38.2,185.3 L-38.7,184.3 L-39.1,183.6 L-39.3,183.1 L-39.3,183.0Z" fill="#c7dcfb"/>
<path d="M-39.3,312.5 L-39.3,312.6 L-39.1,312.9 L-38.7,313.4 L-38.2,314.1 L-37.6,315.0 L-36.8,316.0 L-36.0,317.2 L-34.9,318.6 L-33.8,320.2 L-32.5,321.9 L-31.1,323.7 L-29.6,325.7 L-28.0,327.9 L-26.2,330.2 L-24.3,332.6 L-22.3,335.1 L-20.2,337.8 L-18.0,340.6 L-15.7,343.5 L-13.3,346.5 L-10.7,349.6 L-8.1,352.8 L-5.3,356.1 L-2.5,359.4 L0.5,362.9 L3.5,366.4 L6.6,370.0 L9.9,373.7 L13.2,377.4 L16.6,381.2 L20.1,385.0 L23.7,388.9 L27.3,392.8 L31.1,396.7 L34.9,400.7 L38.8,404.7 L42.8,408.7 L46.9,412.7 L51.0,416.8 L55.2,420.8 L59.5,424.8 L63.8,428.9 L68.2,432.9 L72.7,436.9 L77.2,440.8 L81.8,444.8 L86.4,448.7 L91.1,452.5 L95.9,456.4 L100.7,460.2 L105.5,463.9 L110.4,467.5 L115.4,471.1 L120.4,474.7 L125.4,478.1 L130.5,481.5 L135.6,484.8 L140.8,488.0 L146.0,491.1 L151.2,494.1 L156.5,497.0 L161.7,499.8 L167.1,502.4 L172.4,505.0 L177.8,507.4 L183.2,509.7 L188.6,511.8 L194.0,513.8 L199.4,515.7 L204.9,517.4 L210.4,518.9 L215.9,520.3 L221.3,521.5 L226.9,522.6 L232.4,523.5 L237.9,524.1 L243.4,524.6 L248.9,524.9 L254.4,525.0 L262.0,525.0 L262.0,530.6 L254.4,530.6 L248.9,530.5 L243.4,530.2 L237.9,529.7 L232.4,529.1 L226.9,528.2 L221.3,527.1 L215.9,525.9 L210.4,524.5 L204.9,523.0 L199.4,521.3 L194.0,519.4 L188.6,517.4 L183.2,515.3 L177.8,513.0 L172.4,510.6 L167.1,508.0 L161.7,505.4 L156.5,502.6 L151.2,499.7 L146.0,496.7 L140.8,493.6 L135.6,490.4 L130.5,487.1 L125.4,483.7 L120.4,480.3 L115.4,476.7 L110.4,473.1 L105.5,469.5 L100.7,465.8 L95.9,462.0 L91.1,458.1 L86.4,454.3 L81.8,450.4 L77.2,446.4 L72.7,442.5 L68.2,438.5 L63.8,434.5 L59.5,430.4 L55.2,426.4 L51.0,422.4 L46.9,418.3 L42.8,414.3 L38.8,410.3 L34.9,406.3 L31.1,402.3 L27.3,398.4 L23.7,394.5 L20.1,390.6 L16.6,386.8 L13.2,383.0 L9.9,379.3 L6.6,375.6 L3.5,372.0 L0.5,368.5 L-2.5,365.0 L-5.3,361.7 L-8.1,358.4 L-10.7,355.2 L-13.3,352.1 L-15.7,349.1 L-18.0,346.2 L-20.2,343.4 L-22.3,340.7 L-24.3,338.2 L-26.2,335.8 L-28.0,333.5 L-29.6,331.3 L-31.1,329.3 L-32.5,327.5 L-33.8,325.8 L-34.9,324.2 L-36.0,322.8 L-36.8,321.6 L-37.6,320.6 L-38.2,319.7 L-38.7,319.0 L-39.1,318.5 L-39.3,318.2 L-39.3,318.1Z" fill="#c7dcfb"/>
<path d="M-39.3,447.7 L-39.3,447.7 L-39.1,447.9 L-38.7,448.1 L-38.2,448.5 L-37.6,448.9 L-36.8,449.4 L-36.0,450.0 L-34.9,450.7 L-33.8,451.5 L-32.5,452.4 L-31.1,453.3 L-29.6,454.3 L-28.0,455.4 L-26.2,456.5 L-24.3,457.7 L-22.3,459.0 L-20.2,460.3 L-18.0,461.7 L-15.7,463.2 L-13.3,464.7 L-10.7,466.2 L-8.1,467.8 L-5.3,469.5 L-2.5,471.2 L0.5,472.9 L3.5,474.7 L6.6,476.5 L9.9,478.3 L13.2,480.2 L16.6,482.1 L20.1,484.0 L23.7,485.9 L27.3,487.9 L31.1,489.9 L34.9,491.9 L38.8,493.9 L42.8,495.9 L46.9,497.9 L51.0,499.9 L55.2,501.9 L59.5,504.0 L63.8,506.0 L68.2,508.0 L72.7,510.0 L77.2,512.0 L81.8,514.0 L86.4,515.9 L91.1,517.8 L95.9,519.8 L100.7,521.7 L105.5,523.5 L110.4,525.4 L115.4,527.2 L120.4,528.9 L125.4,530.7 L130.5,532.4 L135.6,534.0 L140.8,535.6 L146.0,537.2 L151.2,538.7 L156.5,540.1 L161.7,541.5 L167.1,542.8 L172.4,544.1 L177.8,545.3 L183.2,546.5 L188.6,547.6 L194.0,548.6 L199.4,549.5 L204.9,550.3 L210.4,551.1 L215.9,551.8 L221.3,552.4 L226.9,553.0 L232.4,553.4 L237.9,553.7 L243.4,554.0 L248.9,554.1 L254.4,554.2 L262.0,554.2 L262.0,559.8 L254.4,559.8 L248.9,559.7 L243.4,559.6 L237.9,559.3 L232.4,559.0 L226.9,558.6 L221.3,558.0 L215.9,557.4 L210.4,556.7 L204.9,555.9 L199.4,555.1 L194.0,554.2 L188.6,553.2 L183.2,552.1 L177.8,550.9 L172.4,549.7 L167.1,548.4 L161.7,547.1 L156.5,545.7 L151.2,544.3 L146.0,542.8 L140.8,541.2 L135.6,539.6 L130.5,538.0 L125.4,536.3 L120.4,534.5 L115.4,532.8 L110.4,531.0 L105.5,529.1 L100.7,527.3 L95.9,525.4 L91.1,523.4 L86.4,521.5 L81.8,519.6 L77.2,517.6 L72.7,515.6 L68.2,513.6 L63.8,511.6 L59.5,509.6 L55.2,507.5 L51.0,505.5 L46.9,503.5 L42.8,501.5 L38.8,499.5 L34.9,497.5 L31.1,495.5 L27.3,493.5 L23.7,491.5 L20.1,489.6 L16.6,487.7 L13.2,485.8 L9.9,483.9 L6.6,482.1 L3.5,480.3 L0.5,478.5 L-2.5,476.8 L-5.3,475.1 L-8.1,473.4 L-10.7,471.8 L-13.3,470.3 L-15.7,468.8 L-18.0,467.3 L-20.2,465.9 L-22.3,464.6 L-24.3,463.3 L-26.2,462.1 L-28.0,461.0 L-29.6,459.9 L-31.1,458.9 L-32.5,458.0 L-33.8,457.1 L-34.9,456.3 L-36.0,455.6 L-36.8,455.0 L-37.6,454.5 L-38.2,454.1 L-38.7,453.7 L-39.1,453.5 L-39.3,453.3 L-39.3,453.3Z" fill="#c7dcfb"/>
<path d="M-39.3,582.8 L-39.3,582.8 L-39.1,582.8 L-38.7,582.8 L-38.2,582.8 L-37.6,582.8 L-36.8,582.8 L-36.0,582.8 L-34.9,582.8 L-33.8,582.8 L-32.5,582.8 L-31.1,582.8 L-29.6,582.9 L-28.0,582.9 L-26.2,582.9 L-24.3,582.9 L-22.3,582.9 L-20.2,582.9 L-18.0,582.9 L-15.7,582.9 L-13.3,582.9 L-10.7,582.9 L-8.1,582.9 L-5.3,582.9 L-2.5,582.9 L0.5,582.9 L3.5,582.9 L6.6,583.0 L9.9,583.0 L13.2,583.0 L16.6,583.0 L20.1,583.0 L23.7,583.0 L27.3,583.0 L31.1,583.0 L34.9,583.0 L38.8,583.0 L42.8,583.0 L46.9,583.1 L51.0,583.1 L55.2,583.1 L59.5,583.1 L63.8,583.1 L68.2,583.1 L72.7,583.1 L77.2,583.1 L81.8,583.1 L86.4,583.1 L91.1,583.2 L95.9,583.2 L100.7,583.2 L105.5,583.2 L110.4,583.2 L115.4,583.2 L120.4,583.2 L125.4,583.2 L130.5,583.2 L135.6,583.2 L140.8,583.2 L146.0,583.2 L151.2,583.2 L156.5,583.3 L161.7,583.3 L167.1,583.3 L172.4,583.3 L177.8,583.3 L183.2,583.3 L188.6,583.3 L194.0,583.3 L199.4,583.3 L204.9,583.3 L210.4,583.3 L215.9,583.3 L221.3,583.3 L226.9,583.3 L232.4,583.3 L237.9,583.3 L243.4,583.3 L248.9,583.3 L254.4,583.3 L262.0,583.3 L262.0,588.9 L254.4,588.9 L248.9,588.9 L243.4,588.9 L237.9,588.9 L232.4,588.9 L226.9,588.9 L221.3,588.9 L215.9,588.9 L210.4,588.9 L204.9,588.9 L199.4,588.9 L194.0,588.9 L188.6,588.9 L183.2,588.9 L177.8,588.9 L172.4,588.9 L167.1,588.9 L161.7,588.9 L156.5,588.9 L151.2,588.8 L146.0,588.8 L140.8,588.8 L135.6,588.8 L130.5,588.8 L125.4,588.8 L120.4,588.8 L115.4,588.8 L110.4,588.8 L105.5,588.8 L100.7,588.8 L95.9,588.8 L91.1,588.8 L86.4,588.7 L81.8,588.7 L77.2,588.7 L72.7,588.7 L68.2,588.7 L63.8,588.7 L59.5,588.7 L55.2,588.7 L51.0,588.7 L46.9,588.7 L42.8,588.6 L38.8,588.6 L34.9,588.6 L31.1,588.6 L27.3,588.6 L23.7,588.6 L20.1,588.6 L16.6,588.6 L13.2,588.6 L9.9,588.6 L6.6,588.6 L3.5,588.5 L0.5,588.5 L-2.5,588.5 L-5.3,588.5 L-8.1,588.5 L-10.7,588.5 L-13.3,588.5 L-15.7,588.5 L-18.0,588.5 L-20.2,588.5 L-22.3,588.5 L-24.3,588.5 L-26.2,588.5 L-28.0,588.5 L-29.6,588.5 L-31.1,588.4 L-32.5,588.4 L-33.8,588.4 L-34.9,588.4 L-36.0,588.4 L-36.8,588.4 L-37.6,588.4 L-38.2,588.4 L-38.7,588.4 L-39.1,588.4 L-39.3,588.4 L-39.3,588.4Z" fill="#c7dcfb"/>
<path d="M-39.3,718.0 L-39.3,717.9 L-39.1,717.8 L-38.7,717.5 L-38.2,717.2 L-37.6,716.8 L-36.8,716.2 L-36.0,715.6 L-34.9,714.9 L-33.8,714.2 L-32.5,713.3 L-31.1,712.4 L-29.6,711.4 L-28.0,710.3 L-26.2,709.2 L-24.3,708.0 L-22.3,706.7 L-20.2,705.4 L-18.0,704.0 L-15.7,702.6 L-13.3,701.1 L-10.7,699.6 L-8.1,698.0 L-5.3,696.4 L-2.5,694.7 L0.5,693.0 L3.5,691.2 L6.6,689.4 L9.9,687.6 L13.2,685.8 L16.6,683.9 L20.1,682.0 L23.7,680.1 L27.3,678.1 L31.1,676.2 L34.9,674.2 L38.8,672.2 L42.8,670.2 L46.9,668.2 L51.0,666.2 L55.2,664.2 L59.5,662.2 L63.8,660.2 L68.2,658.2 L72.7,656.2 L77.2,654.3 L81.8,652.3 L86.4,650.4 L91.1,648.5 L95.9,646.6 L100.7,644.7 L105.5,642.8 L110.4,641.0 L115.4,639.2 L120.4,637.5 L125.4,635.8 L130.5,634.1 L135.6,632.5 L140.8,630.9 L146.0,629.3 L151.2,627.8 L156.5,626.4 L161.7,625.0 L167.1,623.7 L172.4,622.4 L177.8,621.2 L183.2,620.1 L188.6,619.0 L194.0,618.0 L199.4,617.1 L204.9,616.3 L210.4,615.5 L215.9,614.8 L221.3,614.2 L226.9,613.7 L232.4,613.2 L237.9,612.9 L243.4,612.7 L248.9,612.5 L254.4,612.5 L262.0,612.5 L262.0,618.1 L254.4,618.1 L248.9,618.1 L243.4,618.3 L237.9,618.5 L232.4,618.8 L226.9,619.3 L221.3,619.8 L215.9,620.4 L210.4,621.1 L204.9,621.9 L199.4,622.7 L194.0,623.6 L188.6,624.6 L183.2,625.7 L177.8,626.8 L172.4,628.0 L167.1,629.3 L161.7,630.6 L156.5,632.0 L151.2,633.4 L146.0,634.9 L140.8,636.5 L135.6,638.1 L130.5,639.7 L125.4,641.4 L120.4,643.1 L115.4,644.8 L110.4,646.6 L105.5,648.4 L100.7,650.3 L95.9,652.2 L91.1,654.1 L86.4,656.0 L81.8,657.9 L77.2,659.9 L72.7,661.8 L68.2,663.8 L63.8,665.8 L59.5,667.8 L55.2,669.8 L51.0,671.8 L46.9,673.8 L42.8,675.8 L38.8,677.8 L34.9,679.8 L31.1,681.8 L27.3,683.7 L23.7,685.7 L20.1,687.6 L16.6,689.5 L13.2,691.4 L9.9,693.2 L6.6,695.0 L3.5,696.8 L0.5,698.6 L-2.5,700.3 L-5.3,702.0 L-8.1,703.6 L-10.7,705.2 L-13.3,706.7 L-15.7,708.2 L-18.0,709.6 L-20.2,711.0 L-22.3,712.3 L-24.3,713.6 L-26.2,714.8 L-28.0,715.9 L-29.6,717.0 L-31.1,718.0 L-32.5,718.9 L-33.8,719.8 L-34.9,720.5 L-36.0,721.2 L-36.8,721.8 L-37.6,722.4 L-38.2,722.8 L-38.7,723.1 L-39.1,723.4 L-39.3,723.5 L-39.3,723.6Z" fill="#c7dcfb"/>
<path d="M-39.3,853.1 L-39.3,853.0 L-39.1,852.7 L-38.7,852.2 L-38.2,851.6 L-37.6,850.7 L-36.8,849.7 L-36.0,848.4 L-34.9,847.1 L-33.8,845.5 L-32.5,843.8 L-31.1,842.0 L-29.6,840.0 L-28.0,837.8 L-26.2,835.6 L-24.3,833.1 L-22.3,830.6 L-20.2,828.0 L-18.0,825.2 L-15.7,822.3 L-13.3,819.3 L-10.7,816.2 L-8.1,813.1 L-5.3,809.8 L-2.5,806.4 L0.5,803.0 L3.5,799.5 L6.6,795.9 L9.9,792.2 L13.2,788.5 L16.6,784.8 L20.1,781.0 L23.7,777.1 L27.3,773.2 L31.1,769.3 L34.9,765.4 L38.8,761.4 L42.8,757.4 L46.9,753.4 L51.0,749.4 L55.2,745.4 L59.5,741.3 L63.8,737.3 L68.2,733.3 L72.7,729.4 L77.2,725.4 L81.8,721.5 L86.4,717.6 L91.1,713.8 L95.9,709.9 L100.7,706.2 L105.5,702.5 L110.4,698.8 L115.4,695.3 L120.4,691.7 L125.4,688.3 L130.5,684.9 L135.6,681.7 L140.8,678.5 L146.0,675.4 L151.2,672.4 L156.5,669.5 L161.7,666.8 L167.1,664.1 L172.4,661.6 L177.8,659.2 L183.2,656.9 L188.6,654.8 L194.0,652.8 L199.4,650.9 L204.9,649.2 L210.4,647.7 L215.9,646.3 L221.3,645.1 L226.9,644.0 L232.4,643.2 L237.9,642.5 L243.4,642.0 L248.9,641.7 L254.4,641.6 L262.0,641.6 L262.0,647.2 L254.4,647.2 L248.9,647.3 L243.4,647.6 L237.9,648.1 L232.4,648.8 L226.9,649.6 L221.3,650.7 L215.9,651.9 L210.4,653.3 L204.9,654.8 L199.4,656.5 L194.0,658.4 L188.6,660.4 L183.2,662.5 L177.8,664.8 L172.4,667.2 L167.1,669.7 L161.7,672.4 L156.5,675.1 L151.2,678.0 L146.0,681.0 L140.8,684.1 L135.6,687.3 L130.5,690.5 L125.4,693.9 L120.4,697.3 L115.4,700.9 L110.4,704.4 L105.5,708.1 L100.7,711.8 L95.9,715.5 L91.1,719.4 L86.4,723.2 L81.8,727.1 L77.2,731.0 L72.7,735.0 L68.2,738.9 L63.8,742.9 L59.5,746.9 L55.2,751.0 L51.0,755.0 L46.9,759.0 L42.8,763.0 L38.8,767.0 L34.9,771.0 L31.1,774.9 L27.3,778.8 L23.7,782.7 L20.1,786.6 L16.6,790.4 L13.2,794.1 L9.9,797.8 L6.6,801.5 L3.5,805.1 L0.5,808.6 L-2.5,812.0 L-5.3,815.4 L-8.1,818.7 L-10.7,821.8 L-13.3,824.9 L-15.7,827.9 L-18.0,830.8 L-20.2,833.6 L-22.3,836.2 L-24.3,838.7 L-26.2,841.2 L-28.0,843.4 L-29.6,845.6 L-31.1,847.6 L-32.5,849.4 L-33.8,851.1 L-34.9,852.7 L-36.0,854.0 L-36.8,855.3 L-37.6,856.3 L-38.2,857.2 L-38.7,857.8 L-39.1,858.3 L-39.3,858.6 L-39.3,858.7Z" fill="#c7dcfb"/>
<path d="M-39.3,432.2 L-39.3,432.4 L-39.1,433.1 L-38.7,434.1 L-38.2,435.5 L-37.6,437.4 L-36.8,439.6 L-36.0,442.1 L-34.9,445.1 L-33.8,448.3 L-32.5,451.9 L-31.1,455.8 L-29.6,460.1 L-28.0,464.6 L-26.2,469.4 L-24.3,474.5 L-22.3,479.9 L-20.2,485.5 L-18.0,491.4 L-15.7,497.5 L-13.3,503.8 L-10.7,510.3 L-8.1,517.1 L-5.3,524.0 L-2.5,531.1 L0.5,538.4 L3.5,545.8 L6.6,553.4 L9.9,561.1 L13.2,569.0 L16.6,577.0 L20.1,585.0 L23.7,593.2 L27.3,601.4 L31.1,609.7 L34.9,618.1 L38.8,626.5 L42.8,635.0 L46.9,643.5 L51.0,652.0 L55.2,660.5 L59.5,669.0 L63.8,677.4 L68.2,685.9 L72.7,694.3 L77.2,702.7 L81.8,711.0 L86.4,719.2 L91.1,727.4 L95.9,735.5 L100.7,743.4 L105.5,751.3 L110.4,759.0 L115.4,766.6 L120.4,774.0 L125.4,781.3 L130.5,788.4 L135.6,795.3 L140.8,802.1 L146.0,808.6 L151.2,814.9 L156.5,821.0 L161.7,826.9 L167.1,832.5 L172.4,837.9 L177.8,843.0 L183.2,847.8 L188.6,852.3 L194.0,856.6 L199.4,860.5 L204.9,864.1 L210.4,867.3 L215.9,870.3 L221.3,872.8 L226.9,875.0 L232.4,876.9 L237.9,878.3 L243.4,879.4 L248.9,880.0 L254.4,880.2 L262.0,880.2 L262.0,885.8 L254.4,885.8 L248.9,885.6 L243.4,885.0 L237.9,883.9 L232.4,882.5 L226.9,880.6 L221.3,878.4 L215.9,875.9 L210.4,872.9 L204.9,869.7 L199.4,866.1 L194.0,862.2 L188.6,857.9 L183.2,853.4 L177.8,848.6 L172.4,843.5 L167.1,838.1 L161.7,832.5 L156.5,826.6 L151.2,820.5 L146.0,814.2 L140.8,807.7 L135.6,800.9 L130.5,794.0 L125.4,786.9 L120.4,779.6 L115.4,772.2 L110.4,764.6 L105.5,756.9 L100.7,749.0 L95.9,741.1 L91.1,733.0 L86.4,724.8 L81.8,716.6 L77.2,708.3 L72.7,699.9 L68.2,691.5 L63.8,683.0 L59.5,674.6 L55.2,666.1 L51.0,657.6 L46.9,649.1 L42.8,640.6 L38.8,632.1 L34.9,623.7 L31.1,615.3 L27.3,607.0 L23.7,598.8 L20.1,590.6 L16.6,582.6 L13.2,574.6 L9.9,566.7 L6.6,559.0 L3.5,551.4 L0.5,544.0 L-2.5,536.7 L-5.3,529.6 L-8.1,522.7 L-10.7,515.9 L-13.3,509.4 L-15.7,503.1 L-18.0,497.0 L-20.2,491.1 L-22.3,485.5 L-24.3,480.1 L-26.2,475.0 L-28.0,470.2 L-29.6,465.7 L-31.1,461.4 L-32.5,457.5 L-33.8,453.9 L-34.9,450.7 L-36.0,447.7 L-36.8,445.2 L-37.6,443.0 L-38.2,441.1 L-38.7,439.7 L-39.1,438.7 L-39.3,438.0 L-39.3,437.8Z" fill="#bdf0da"/>
<path d="M-39.3,567.4 L-39.3,567.5 L-39.1,568.0 L-38.7,568.8 L-38.2,569.9 L-37.6,571.3 L-36.8,573.0 L-36.0,574.9 L-34.9,577.2 L-33.8,579.7 L-32.5,582.4 L-31.1,585.4 L-29.6,588.6 L-28.0,592.1 L-26.2,595.8 L-24.3,599.7 L-22.3,603.8 L-20.2,608.1 L-18.0,612.5 L-15.7,617.2 L-13.3,622.0 L-10.7,627.0 L-8.1,632.1 L-5.3,637.4 L-2.5,642.9 L0.5,648.4 L3.5,654.1 L6.6,659.9 L9.9,665.8 L13.2,671.8 L16.6,677.8 L20.1,684.0 L23.7,690.2 L27.3,696.5 L31.1,702.9 L34.9,709.2 L38.8,715.7 L42.8,722.1 L46.9,728.6 L51.0,735.1 L55.2,741.6 L59.5,748.1 L63.8,754.5 L68.2,761.0 L72.7,767.4 L77.2,773.8 L81.8,780.2 L86.4,786.4 L91.1,792.7 L95.9,798.8 L100.7,804.9 L105.5,810.9 L110.4,816.8 L115.4,822.6 L120.4,828.2 L125.4,833.8 L130.5,839.2 L135.6,844.5 L140.8,849.7 L146.0,854.7 L151.2,859.5 L156.5,864.1 L161.7,868.6 L167.1,872.9 L172.4,877.0 L177.8,880.9 L183.2,884.6 L188.6,888.0 L194.0,891.3 L199.4,894.3 L204.9,897.0 L210.4,899.5 L215.9,901.7 L221.3,903.7 L226.9,905.4 L232.4,906.8 L237.9,907.9 L243.4,908.7 L248.9,909.1 L254.4,909.3 L262.0,909.3 L262.0,914.9 L254.4,914.9 L248.9,914.7 L243.4,914.3 L237.9,913.5 L232.4,912.4 L226.9,911.0 L221.3,909.3 L215.9,907.3 L210.4,905.1 L204.9,902.6 L199.4,899.9 L194.0,896.9 L188.6,893.6 L183.2,890.2 L177.8,886.5 L172.4,882.6 L167.1,878.5 L161.7,874.2 L156.5,869.7 L151.2,865.1 L146.0,860.3 L140.8,855.3 L135.6,850.1 L130.5,844.8 L125.4,839.4 L120.4,833.8 L115.4,828.2 L110.4,822.4 L105.5,816.5 L100.7,810.5 L95.9,804.4 L91.1,798.3 L86.4,792.0 L81.8,785.8 L77.2,779.4 L72.7,773.0 L68.2,766.6 L63.8,760.1 L59.5,753.7 L55.2,747.2 L51.0,740.7 L46.9,734.2 L42.8,727.7 L38.8,721.3 L34.9,714.8 L31.1,708.5 L27.3,702.1 L23.7,695.8 L20.1,689.6 L16.6,683.4 L13.2,677.4 L9.9,671.4 L6.6,665.5 L3.5,659.7 L0.5,654.0 L-2.5,648.5 L-5.3,643.0 L-8.1,637.7 L-10.7,632.6 L-13.3,627.6 L-15.7,622.8 L-18.0,618.1 L-20.2,613.7 L-22.3,609.4 L-24.3,605.3 L-26.2,601.4 L-28.0,597.7 L-29.6,594.2 L-31.1,591.0 L-32.5,588.0 L-33.8,585.3 L-34.9,582.8 L-36.0,580.5 L-36.8,578.6 L-37.6,576.9 L-38.2,575.5 L-38.7,574.4 L-39.1,573.6 L-39.3,573.1 L-39.3,573.0Z" fill="#bdf0da"/>
<path d="M-39.3,702.5 L-39.3,702.6 L-39.1,703.0 L-38.7,703.5 L-38.2,704.3 L-37.6,705.2 L-36.8,706.4 L-36.0,707.7 L-34.9,709.3 L-33.8,711.0 L-32.5,712.9 L-31.1,715.0 L-29.6,717.2 L-28.0,719.6 L-26.2,722.1 L-24.3,724.8 L-22.3,727.6 L-20.2,730.6 L-18.0,733.7 L-15.7,736.9 L-13.3,740.2 L-10.7,743.7 L-8.1,747.2 L-5.3,750.9 L-2.5,754.6 L0.5,758.4 L3.5,762.3 L6.6,766.3 L9.9,770.4 L13.2,774.5 L16.6,778.7 L20.1,783.0 L23.7,787.3 L27.3,791.6 L31.1,796.0 L34.9,800.4 L38.8,804.8 L42.8,809.3 L46.9,813.7 L51.0,818.2 L55.2,822.7 L59.5,827.2 L63.8,831.6 L68.2,836.1 L72.7,840.5 L77.2,844.9 L81.8,849.3 L86.4,853.6 L91.1,857.9 L95.9,862.2 L100.7,866.4 L105.5,870.5 L110.4,874.6 L115.4,878.6 L120.4,882.5 L125.4,886.3 L130.5,890.1 L135.6,893.7 L140.8,897.3 L146.0,900.7 L151.2,904.0 L156.5,907.2 L161.7,910.3 L167.1,913.3 L172.4,916.1 L177.8,918.8 L183.2,921.3 L188.6,923.7 L194.0,926.0 L199.4,928.0 L204.9,929.9 L210.4,931.6 L215.9,933.2 L221.3,934.5 L226.9,935.7 L232.4,936.6 L237.9,937.4 L243.4,938.0 L248.9,938.3 L254.4,938.4 L262.0,938.4 L262.0,944.0 L254.4,944.0 L248.9,943.9 L243.4,943.6 L237.9,943.0 L232.4,942.2 L226.9,941.3 L221.3,940.1 L215.9,938.8 L210.4,937.2 L204.9,935.5 L199.4,933.6 L194.0,931.6 L188.6,929.3 L183.2,926.9 L177.8,924.4 L172.4,921.7 L167.1,918.9 L161.7,915.9 L156.5,912.8 L151.2,909.6 L146.0,906.3 L140.8,902.9 L135.6,899.3 L130.5,895.7 L125.4,891.9 L120.4,888.1 L115.4,884.2 L110.4,880.2 L105.5,876.1 L100.7,872.0 L95.9,867.8 L91.1,863.5 L86.4,859.2 L81.8,854.9 L77.2,850.5 L72.7,846.1 L68.2,841.7 L63.8,837.2 L59.5,832.8 L55.2,828.3 L51.0,823.8 L46.9,819.3 L42.8,814.9 L38.8,810.4 L34.9,806.0 L31.1,801.6 L27.3,797.2 L23.7,792.9 L20.1,788.6 L16.6,784.3 L13.2,780.1 L9.9,776.0 L6.6,771.9 L3.5,767.9 L0.5,764.0 L-2.5,760.2 L-5.3,756.5 L-8.1,752.8 L-10.7,749.3 L-13.3,745.8 L-15.7,742.5 L-18.0,739.3 L-20.2,736.2 L-22.3,733.2 L-24.3,730.4 L-26.2,727.7 L-28.0,725.2 L-29.6,722.8 L-31.1,720.6 L-32.5,718.5 L-33.8,716.6 L-34.9,714.9 L-36.0,713.3 L-36.8,712.0 L-37.6,710.8 L-38.2,709.9 L-38.7,709.1 L-39.1,708.6 L-39.3,708.2 L-39.3,708.1Z" fill="#bdf0da"/>
<path d="M-39.3,837.7 L-39.3,837.7 L-39.1,837.9 L-38.7,838.2 L-38.2,838.6 L-37.6,839.2 L-36.8,839.8 L-36.0,840.5 L-34.9,841.4 L-33.8,842.3 L-32.5,843.4 L-31.1,844.5 L-29.6,845.7 L-28.0,847.1 L-26.2,848.5 L-24.3,849.9 L-22.3,851.5 L-20.2,853.1 L-18.0,854.8 L-15.7,856.6 L-13.3,858.4 L-10.7,860.3 L-8.1,862.3 L-5.3,864.3 L-2.5,866.3 L0.5,868.4 L3.5,870.6 L6.6,872.8 L9.9,875.0 L13.2,877.3 L16.6,879.6 L20.1,882.0 L23.7,884.3 L27.3,886.7 L31.1,889.1 L34.9,891.5 L38.8,894.0 L42.8,896.4 L46.9,898.9 L51.0,901.4 L55.2,903.8 L59.5,906.3 L63.8,908.7 L68.2,911.2 L72.7,913.6 L77.2,916.1 L81.8,918.5 L86.4,920.9 L91.1,923.2 L95.9,925.6 L100.7,927.9 L105.5,930.1 L110.4,932.4 L115.4,934.6 L120.4,936.7 L125.4,938.8 L130.5,940.9 L135.6,942.9 L140.8,944.9 L146.0,946.7 L151.2,948.6 L156.5,950.4 L161.7,952.1 L167.1,953.7 L172.4,955.2 L177.8,956.7 L183.2,958.1 L188.6,959.4 L194.0,960.6 L199.4,961.8 L204.9,962.8 L210.4,963.8 L215.9,964.6 L221.3,965.4 L226.9,966.0 L232.4,966.5 L237.9,967.0 L243.4,967.3 L248.9,967.4 L254.4,967.5 L262.0,967.5 L262.0,973.1 L254.4,973.1 L248.9,973.0 L243.4,972.9 L237.9,972.6 L232.4,972.1 L226.9,971.6 L221.3,971.0 L215.9,970.2 L210.4,969.4 L204.9,968.4 L199.4,967.4 L194.0,966.2 L188.6,965.0 L183.2,963.7 L177.8,962.3 L172.4,960.8 L167.1,959.3 L161.7,957.7 L156.5,956.0 L151.2,954.2 L146.0,952.3 L140.8,950.5 L135.6,948.5 L130.5,946.5 L125.4,944.4 L120.4,942.3 L115.4,940.2 L110.4,938.0 L105.5,935.7 L100.7,933.5 L95.9,931.2 L91.1,928.8 L86.4,926.5 L81.8,924.1 L77.2,921.7 L72.7,919.2 L68.2,916.8 L63.8,914.3 L59.5,911.9 L55.2,909.4 L51.0,907.0 L46.9,904.5 L42.8,902.0 L38.8,899.6 L34.9,897.1 L31.1,894.7 L27.3,892.3 L23.7,889.9 L20.1,887.6 L16.6,885.2 L13.2,882.9 L9.9,880.6 L6.6,878.4 L3.5,876.2 L0.5,874.0 L-2.5,871.9 L-5.3,869.9 L-8.1,867.9 L-10.7,865.9 L-13.3,864.0 L-15.7,862.2 L-18.0,860.4 L-20.2,858.7 L-22.3,857.1 L-24.3,855.5 L-26.2,854.1 L-28.0,852.7 L-29.6,851.3 L-31.1,850.1 L-32.5,849.0 L-33.8,847.9 L-34.9,847.0 L-36.0,846.1 L-36.8,845.4 L-37.6,844.8 L-38.2,844.2 L-38.7,843.8 L-39.1,843.5 L-39.3,843.3 L-39.3,843.3Z" fill="#bdf0da"/>
<path d="M-39.3,972.8 L-39.3,972.8 L-39.1,972.9 L-38.7,972.9 L-38.2,973.0 L-37.6,973.1 L-36.8,973.2 L-36.0,973.3 L-34.9,973.5 L-33.8,973.7 L-32.5,973.9 L-31.1,974.1 L-29.6,974.3 L-28.0,974.5 L-26.2,974.8 L-24.3,975.1 L-22.3,975.4 L-20.2,975.7 L-18.0,976.0 L-15.7,976.3 L-13.3,976.6 L-10.7,977.0 L-8.1,977.3 L-5.3,977.7 L-2.5,978.1 L0.5,978.5 L3.5,978.9 L6.6,979.3 L9.9,979.7 L13.2,980.1 L16.6,980.5 L20.1,980.9 L23.7,981.4 L27.3,981.8 L31.1,982.2 L34.9,982.7 L38.8,983.1 L42.8,983.6 L46.9,984.0 L51.0,984.5 L55.2,984.9 L59.5,985.4 L63.8,985.8 L68.2,986.3 L72.7,986.7 L77.2,987.2 L81.8,987.6 L86.4,988.1 L91.1,988.5 L95.9,988.9 L100.7,989.3 L105.5,989.8 L110.4,990.2 L115.4,990.6 L120.4,991.0 L125.4,991.3 L130.5,991.7 L135.6,992.1 L140.8,992.5 L146.0,992.8 L151.2,993.1 L156.5,993.5 L161.7,993.8 L167.1,994.1 L172.4,994.4 L177.8,994.6 L183.2,994.9 L188.6,995.1 L194.0,995.3 L199.4,995.6 L204.9,995.7 L210.4,995.9 L215.9,996.1 L221.3,996.2 L226.9,996.3 L232.4,996.4 L237.9,996.5 L243.4,996.6 L248.9,996.6 L254.4,996.6 L262.0,996.6 L262.0,1002.2 L254.4,1002.2 L248.9,1002.2 L243.4,1002.2 L237.9,1002.1 L232.4,1002.0 L226.9,1001.9 L221.3,1001.8 L215.9,1001.7 L210.4,1001.5 L204.9,1001.3 L199.4,1001.2 L194.0,1000.9 L188.6,1000.7 L183.2,1000.5 L177.8,1000.2 L172.4,1000.0 L167.1,999.7 L161.7,999.4 L156.5,999.1 L151.2,998.7 L146.0,998.4 L140.8,998.1 L135.6,997.7 L130.5,997.3 L125.4,996.9 L120.4,996.6 L115.4,996.2 L110.4,995.8 L105.5,995.4 L100.7,994.9 L95.9,994.5 L91.1,994.1 L86.4,993.7 L81.8,993.2 L77.2,992.8 L72.7,992.3 L68.2,991.9 L63.8,991.4 L59.5,991.0 L55.2,990.5 L51.0,990.1 L46.9,989.6 L42.8,989.2 L38.8,988.7 L34.9,988.3 L31.1,987.8 L27.3,987.4 L23.7,987.0 L20.1,986.5 L16.6,986.1 L13.2,985.7 L9.9,985.3 L6.6,984.9 L3.5,984.5 L0.5,984.1 L-2.5,983.7 L-5.3,983.3 L-8.1,982.9 L-10.7,982.6 L-13.3,982.2 L-15.7,981.9 L-18.0,981.6 L-20.2,981.3 L-22.3,981.0 L-24.3,980.7 L-26.2,980.4 L-28.0,980.1 L-29.6,979.9 L-31.1,979.7 L-32.5,979.5 L-33.8,979.3 L-34.9,979.1 L-36.0,978.9 L-36.8,978.8 L-37.6,978.7 L-38.2,978.6 L-38.7,978.5 L-39.1,978.5 L-39.3,978.4 L-39.3,978.4Z" fill="#bdf0da"/>
<path d="M-39.3,1108.0 L-39.3,1107.9 L-39.1,1107.8 L-38.7,1107.6 L-38.2,1107.4 L-37.6,1107.0 L-36.8,1106.6 L-36.0,1106.2 L-34.9,1105.6 L-33.8,1105.0 L-32.5,1104.4 L-31.1,1103.6 L-29.6,1102.9 L-28.0,1102.0 L-26.2,1101.1 L-24.3,1100.2 L-22.3,1099.2 L-20.2,1098.2 L-18.0,1097.1 L-15.7,1096.0 L-13.3,1094.8 L-10.7,1093.6 L-8.1,1092.4 L-5.3,1091.1 L-2.5,1089.8 L0.5,1088.5 L3.5,1087.1 L6.6,1085.7 L9.9,1084.3 L13.2,1082.9 L16.6,1081.4 L20.1,1079.9 L23.7,1078.4 L27.3,1076.9 L31.1,1075.4 L34.9,1073.8 L38.8,1072.3 L42.8,1070.7 L46.9,1069.2 L51.0,1067.6 L55.2,1066.1 L59.5,1064.5 L63.8,1062.9 L68.2,1061.4 L72.7,1059.8 L77.2,1058.3 L81.8,1056.8 L86.4,1055.3 L91.1,1053.8 L95.9,1052.3 L100.7,1050.8 L105.5,1049.4 L110.4,1048.0 L115.4,1046.6 L120.4,1045.2 L125.4,1043.9 L130.5,1042.6 L135.6,1041.3 L140.8,1040.1 L146.0,1038.8 L151.2,1037.7 L156.5,1036.6 L161.7,1035.5 L167.1,1034.5 L172.4,1033.5 L177.8,1032.5 L183.2,1031.7 L188.6,1030.8 L194.0,1030.0 L199.4,1029.3 L204.9,1028.7 L210.4,1028.1 L215.9,1027.5 L221.3,1027.1 L226.9,1026.6 L232.4,1026.3 L237.9,1026.0 L243.4,1025.9 L248.9,1025.7 L254.4,1025.7 L262.0,1025.7 L262.0,1031.3 L254.4,1031.3 L248.9,1031.3 L243.4,1031.5 L237.9,1031.6 L232.4,1031.9 L226.9,1032.2 L221.3,1032.7 L215.9,1033.1 L210.4,1033.7 L204.9,1034.3 L199.4,1034.9 L194.0,1035.6 L188.6,1036.4 L183.2,1037.3 L177.8,1038.1 L172.4,1039.1 L167.1,1040.1 L161.7,1041.1 L156.5,1042.2 L151.2,1043.3 L146.0,1044.4 L140.8,1045.7 L135.6,1046.9 L130.5,1048.2 L125.4,1049.5 L120.4,1050.8 L115.4,1052.2 L110.4,1053.6 L105.5,1055.0 L100.7,1056.4 L95.9,1057.9 L91.1,1059.4 L86.4,1060.9 L81.8,1062.4 L77.2,1063.9 L72.7,1065.4 L68.2,1067.0 L63.8,1068.5 L59.5,1070.1 L55.2,1071.7 L51.0,1073.2 L46.9,1074.8 L42.8,1076.3 L38.8,1077.9 L34.9,1079.4 L31.1,1081.0 L27.3,1082.5 L23.7,1084.0 L20.1,1085.5 L16.6,1087.0 L13.2,1088.5 L9.9,1089.9 L6.6,1091.3 L3.5,1092.7 L0.5,1094.1 L-2.5,1095.4 L-5.3,1096.7 L-8.1,1098.0 L-10.7,1099.2 L-13.3,1100.4 L-15.7,1101.6 L-18.0,1102.7 L-20.2,1103.8 L-22.3,1104.8 L-24.3,1105.8 L-26.2,1106.7 L-28.0,1107.6 L-29.6,1108.5 L-31.1,1109.2 L-32.5,1110.0 L-33.8,1110.6 L-34.9,1111.2 L-36.0,1111.8 L-36.8,1112.2 L-37.6,1112.6 L-38.2,1113.0 L-38.7,1113.2 L-39.1,1113.4 L-39.3,1113.5 L-39.3,1113.6Z" fill="#bdf0da"/>
<path d="M296,116.5 H394.6 C423.6,116.5 446.6,139.5 446.6,168.5 V675.1" fill="none" stroke="url(#gK0)" stroke-width="5.6"/>
<path d="M296,145.6 H449.9 C478.9,145.6 501.9,168.6 501.9,197.6 V675.1" fill="none" stroke="url(#gK1)" stroke-width="5.6"/>
<path d="M296,174.6 H505.3 C534.3,174.6 557.3,197.6 557.3,226.6 V675.1" fill="none" stroke="url(#gK2)" stroke-width="5.6"/>
<path d="M296,203.7 H560.6 C589.6,203.7 612.6,226.7 612.6,255.7 V675.1" fill="none" stroke="url(#gK3)" stroke-width="5.6"/>
<path d="M296,232.7 H615.9 C644.9,232.7 667.9,255.7 667.9,284.7 V675.1" fill="none" stroke="url(#gK4)" stroke-width="5.6"/>
<path d="M296,261.8 H671.2 C700.2,261.8 723.2,284.8 723.2,313.8 V675.1" fill="none" stroke="url(#gK5)" stroke-width="5.6"/>
<path d="M295,498.7 C374.5,498.7 344.1,398.5 422.6,398.5" fill="none" stroke="#c7dcfb" stroke-width="5.6"/>
<rect x="421.6" y="395.7" width="301.6" height="5.6" fill="url(#gQrow)"/>
<path d="M295,527.8 C374.5,527.8 344.1,453.8 422.6,453.8" fill="none" stroke="#c7dcfb" stroke-width="5.6"/>
<rect x="421.6" y="451.0" width="301.6" height="5.6" fill="url(#gQrow)"/>
<path d="M295,557.0 C374.5,557.0 344.1,509.2 422.6,509.2" fill="none" stroke="#c7dcfb" stroke-width="5.6"/>
<rect x="421.6" y="506.4" width="301.6" height="5.6" fill="url(#gQrow)"/>
<path d="M295,586.1 C374.5,586.1 344.1,564.5 422.6,564.5" fill="none" stroke="#c7dcfb" stroke-width="5.6"/>
<rect x="421.6" y="561.7" width="301.6" height="5.6" fill="url(#gQrow)"/>
<path d="M295,615.3 C374.5,615.3 344.1,619.8 422.6,619.8" fill="none" stroke="#c7dcfb" stroke-width="5.6"/>
<rect x="421.6" y="617.0" width="301.6" height="5.6" fill="url(#gQrow)"/>
<path d="M295,644.4 C374.5,644.4 344.1,675.1 422.6,675.1" fill="none" stroke="#c7dcfb" stroke-width="5.6"/>
<rect x="421.6" y="672.4" width="301.6" height="5.6" fill="url(#gQrow)"/>
<rect x="261" y="113.9" width="35" height="5.2" fill="#f9b4b4"/>
<rect x="261" y="143.0" width="35" height="5.2" fill="#f9b4b4"/>
<rect x="261" y="172.0" width="35" height="5.2" fill="#f9b4b4"/>
<rect x="261" y="201.1" width="35" height="5.2" fill="#f9b4b4"/>
<rect x="261" y="230.1" width="35" height="5.2" fill="#f9b4b4"/>
<rect x="261" y="259.1" width="35" height="5.2" fill="#f9b4b4"/>
<rect x="261" y="496.1" width="35" height="5.2" fill="#a6c9fa"/>
<rect x="261" y="525.2" width="35" height="5.2" fill="#a6c9fa"/>
<rect x="261" y="554.4" width="35" height="5.2" fill="#a6c9fa"/>
<rect x="261" y="583.5" width="35" height="5.2" fill="#a6c9fa"/>
<rect x="261" y="612.7" width="35" height="5.2" fill="#a6c9fa"/>
<rect x="261" y="641.8" width="35" height="5.2" fill="#a6c9fa"/>
<rect x="261" y="880.4" width="35" height="5.2" fill="#83dfb8"/>
<rect x="261" y="909.5" width="35" height="5.2" fill="#83dfb8"/>
<rect x="261" y="938.6" width="35" height="5.2" fill="#83dfb8"/>
<rect x="261" y="967.7" width="35" height="5.2" fill="#83dfb8"/>
<rect x="261" y="996.8" width="35" height="5.2" fill="#83dfb8"/>
<rect x="261" y="1025.9" width="35" height="5.2" fill="#83dfb8"/>
<path d="M1834.0,495.8 L1836.3,495.8 L1838.7,495.7 L1841.0,495.6 L1843.3,495.4 L1845.7,495.2 L1848.0,494.9 L1850.3,494.6 L1852.7,494.2 L1855.0,493.7 L1857.3,493.2 L1859.7,492.6 L1862.0,492.0 L1864.3,491.3 L1866.7,490.6 L1869.0,489.8 L1871.3,488.9 L1873.7,488.0 L1876.0,487.1 L1878.3,486.0 L1880.7,485.0 L1883.0,483.8 L1885.3,482.6 L1887.7,481.4 L1890.0,480.1 L1892.3,478.7 L1894.7,477.3 L1897.0,475.8 L1899.3,474.3 L1901.7,472.7 L1904.0,471.0 L1906.3,469.3 L1908.7,467.6 L1911.0,465.8 L1913.3,463.9 L1915.7,462.0 L1918.0,460.0 L1920.3,457.9 L1922.7,455.8 L1925.0,453.7 L1925.0,459.3 L1922.7,461.4 L1920.3,463.5 L1918.0,465.6 L1915.7,467.6 L1913.3,469.5 L1911.0,471.4 L1908.7,473.2 L1906.3,474.9 L1904.0,476.6 L1901.7,478.3 L1899.3,479.9 L1897.0,481.4 L1894.7,482.9 L1892.3,484.3 L1890.0,485.7 L1887.7,487.0 L1885.3,488.2 L1883.0,489.4 L1880.7,490.6 L1878.3,491.6 L1876.0,492.7 L1873.7,493.6 L1871.3,494.5 L1869.0,495.4 L1866.7,496.2 L1864.3,496.9 L1862.0,497.6 L1859.7,498.2 L1857.3,498.8 L1855.0,499.3 L1852.7,499.8 L1850.3,500.2 L1848.0,500.5 L1845.7,500.8 L1843.3,501.0 L1841.0,501.2 L1838.7,501.3 L1836.3,501.4 L1834.0,501.4Z" fill="#ddd7fd"/>
<rect x="1800" y="496.0" width="35" height="5.2" fill="#c8b4f1"/>
<path d="M1834.0,525.0 L1836.3,525.0 L1838.7,524.9 L1841.0,524.8 L1843.3,524.7 L1845.7,524.4 L1848.0,524.2 L1850.3,523.9 L1852.7,523.5 L1855.0,523.1 L1857.3,522.6 L1859.7,522.1 L1862.0,521.5 L1864.3,520.9 L1866.7,520.2 L1869.0,519.5 L1871.3,518.7 L1873.7,517.9 L1876.0,517.0 L1878.3,516.1 L1880.7,515.1 L1883.0,514.1 L1885.3,513.0 L1887.7,511.9 L1890.0,510.7 L1892.3,509.5 L1894.7,508.2 L1897.0,506.8 L1899.3,505.4 L1901.7,504.0 L1904.0,502.5 L1906.3,501.0 L1908.7,499.4 L1911.0,497.7 L1913.3,496.0 L1915.7,494.3 L1918.0,492.5 L1920.3,490.6 L1922.7,488.7 L1925.0,486.7 L1925.0,492.3 L1922.7,494.3 L1920.3,496.2 L1918.0,498.1 L1915.7,499.9 L1913.3,501.6 L1911.0,503.3 L1908.7,505.0 L1906.3,506.6 L1904.0,508.1 L1901.7,509.6 L1899.3,511.0 L1897.0,512.4 L1894.7,513.8 L1892.3,515.1 L1890.0,516.3 L1887.7,517.5 L1885.3,518.6 L1883.0,519.7 L1880.7,520.7 L1878.3,521.7 L1876.0,522.6 L1873.7,523.5 L1871.3,524.3 L1869.0,525.1 L1866.7,525.8 L1864.3,526.5 L1862.0,527.1 L1859.7,527.7 L1857.3,528.2 L1855.0,528.7 L1852.7,529.1 L1850.3,529.5 L1848.0,529.8 L1845.7,530.0 L1843.3,530.3 L1841.0,530.4 L1838.7,530.5 L1836.3,530.6 L1834.0,530.6Z" fill="#ddd7fd"/>
<rect x="1800" y="525.2" width="35" height="5.2" fill="#c8b4f1"/>
<path d="M1834.0,554.2 L1836.3,554.2 L1838.7,554.1 L1841.0,554.0 L1843.3,553.9 L1845.7,553.7 L1848.0,553.4 L1850.3,553.2 L1852.7,552.8 L1855.0,552.5 L1857.3,552.0 L1859.7,551.6 L1862.0,551.1 L1864.3,550.5 L1866.7,549.9 L1869.0,549.3 L1871.3,548.6 L1873.7,547.8 L1876.0,547.0 L1878.3,546.2 L1880.7,545.3 L1883.0,544.4 L1885.3,543.4 L1887.7,542.4 L1890.0,541.3 L1892.3,540.2 L1894.7,539.1 L1897.0,537.9 L1899.3,536.6 L1901.7,535.3 L1904.0,534.0 L1906.3,532.6 L1908.7,531.2 L1911.0,529.7 L1913.3,528.1 L1915.7,526.6 L1918.0,525.0 L1920.3,523.3 L1922.7,521.6 L1925.0,519.8 L1925.0,525.4 L1922.7,527.2 L1920.3,528.9 L1918.0,530.6 L1915.7,532.2 L1913.3,533.7 L1911.0,535.3 L1908.7,536.8 L1906.3,538.2 L1904.0,539.6 L1901.7,540.9 L1899.3,542.2 L1897.0,543.5 L1894.7,544.7 L1892.3,545.8 L1890.0,546.9 L1887.7,548.0 L1885.3,549.0 L1883.0,550.0 L1880.7,550.9 L1878.3,551.8 L1876.0,552.6 L1873.7,553.4 L1871.3,554.2 L1869.0,554.9 L1866.7,555.5 L1864.3,556.1 L1862.0,556.7 L1859.7,557.2 L1857.3,557.6 L1855.0,558.1 L1852.7,558.4 L1850.3,558.8 L1848.0,559.0 L1845.7,559.3 L1843.3,559.5 L1841.0,559.6 L1838.7,559.7 L1836.3,559.8 L1834.0,559.8Z" fill="#ddd7fd"/>
<rect x="1800" y="554.4" width="35" height="5.2" fill="#c8b4f1"/>
<path d="M1834.0,583.3 L1836.3,583.3 L1838.7,583.3 L1841.0,583.2 L1843.3,583.1 L1845.7,582.9 L1848.0,582.7 L1850.3,582.5 L1852.7,582.2 L1855.0,581.8 L1857.3,581.5 L1859.7,581.1 L1862.0,580.6 L1864.3,580.1 L1866.7,579.6 L1869.0,579.0 L1871.3,578.4 L1873.7,577.7 L1876.0,577.0 L1878.3,576.3 L1880.7,575.5 L1883.0,574.7 L1885.3,573.8 L1887.7,572.9 L1890.0,572.0 L1892.3,571.0 L1894.7,570.0 L1897.0,568.9 L1899.3,567.8 L1901.7,566.6 L1904.0,565.4 L1906.3,564.2 L1908.7,562.9 L1911.0,561.6 L1913.3,560.3 L1915.7,558.9 L1918.0,557.4 L1920.3,556.0 L1922.7,554.4 L1925.0,552.9 L1925.0,558.5 L1922.7,560.0 L1920.3,561.6 L1918.0,563.0 L1915.7,564.5 L1913.3,565.9 L1911.0,567.2 L1908.7,568.5 L1906.3,569.8 L1904.0,571.0 L1901.7,572.2 L1899.3,573.4 L1897.0,574.5 L1894.7,575.6 L1892.3,576.6 L1890.0,577.6 L1887.7,578.5 L1885.3,579.4 L1883.0,580.3 L1880.7,581.1 L1878.3,581.9 L1876.0,582.6 L1873.7,583.3 L1871.3,584.0 L1869.0,584.6 L1866.7,585.2 L1864.3,585.7 L1862.0,586.2 L1859.7,586.7 L1857.3,587.1 L1855.0,587.4 L1852.7,587.8 L1850.3,588.1 L1848.0,588.3 L1845.7,588.5 L1843.3,588.7 L1841.0,588.8 L1838.7,588.9 L1836.3,588.9 L1834.0,588.9Z" fill="#ddd7fd"/>
<rect x="1800" y="583.5" width="35" height="5.2" fill="#c8b4f1"/>
<path d="M1834.0,612.5 L1836.3,612.5 L1838.7,612.5 L1841.0,612.4 L1843.3,612.3 L1845.7,612.1 L1848.0,612.0 L1850.3,611.7 L1852.7,611.5 L1855.0,611.2 L1857.3,610.9 L1859.7,610.5 L1862.0,610.1 L1864.3,609.7 L1866.7,609.2 L1869.0,608.7 L1871.3,608.2 L1873.7,607.6 L1876.0,607.0 L1878.3,606.4 L1880.7,605.7 L1883.0,605.0 L1885.3,604.2 L1887.7,603.4 L1890.0,602.6 L1892.3,601.7 L1894.7,600.8 L1897.0,599.9 L1899.3,598.9 L1901.7,597.9 L1904.0,596.9 L1906.3,595.8 L1908.7,594.7 L1911.0,593.6 L1913.3,592.4 L1915.7,591.2 L1918.0,589.9 L1920.3,588.6 L1922.7,587.3 L1925.0,586.0 L1925.0,591.6 L1922.7,592.9 L1920.3,594.2 L1918.0,595.5 L1915.7,596.8 L1913.3,598.0 L1911.0,599.2 L1908.7,600.3 L1906.3,601.4 L1904.0,602.5 L1901.7,603.5 L1899.3,604.5 L1897.0,605.5 L1894.7,606.4 L1892.3,607.3 L1890.0,608.2 L1887.7,609.0 L1885.3,609.8 L1883.0,610.6 L1880.7,611.3 L1878.3,612.0 L1876.0,612.6 L1873.7,613.2 L1871.3,613.8 L1869.0,614.3 L1866.7,614.8 L1864.3,615.3 L1862.0,615.7 L1859.7,616.1 L1857.3,616.5 L1855.0,616.8 L1852.7,617.1 L1850.3,617.3 L1848.0,617.6 L1845.7,617.7 L1843.3,617.9 L1841.0,618.0 L1838.7,618.1 L1836.3,618.1 L1834.0,618.1Z" fill="#ddd7fd"/>
<rect x="1800" y="612.7" width="35" height="5.2" fill="#c8b4f1"/>
<path d="M1834.0,641.7 L1836.3,641.7 L1838.7,641.7 L1841.0,641.6 L1843.3,641.5 L1845.7,641.4 L1848.0,641.2 L1850.3,641.0 L1852.7,640.8 L1855.0,640.6 L1857.3,640.3 L1859.7,640.0 L1862.0,639.7 L1864.3,639.3 L1866.7,638.9 L1869.0,638.5 L1871.3,638.0 L1873.7,637.5 L1876.0,637.0 L1878.3,636.4 L1880.7,635.9 L1883.0,635.2 L1885.3,634.6 L1887.7,633.9 L1890.0,633.2 L1892.3,632.5 L1894.7,631.7 L1897.0,630.9 L1899.3,630.1 L1901.7,629.3 L1904.0,628.4 L1906.3,627.5 L1908.7,626.5 L1911.0,625.5 L1913.3,624.5 L1915.7,623.5 L1918.0,622.4 L1920.3,621.3 L1922.7,620.2 L1925.0,619.0 L1925.0,624.6 L1922.7,625.8 L1920.3,626.9 L1918.0,628.0 L1915.7,629.1 L1913.3,630.1 L1911.0,631.1 L1908.7,632.1 L1906.3,633.1 L1904.0,634.0 L1901.7,634.9 L1899.3,635.7 L1897.0,636.5 L1894.7,637.3 L1892.3,638.1 L1890.0,638.8 L1887.7,639.5 L1885.3,640.2 L1883.0,640.8 L1880.7,641.5 L1878.3,642.0 L1876.0,642.6 L1873.7,643.1 L1871.3,643.6 L1869.0,644.1 L1866.7,644.5 L1864.3,644.9 L1862.0,645.3 L1859.7,645.6 L1857.3,645.9 L1855.0,646.2 L1852.7,646.4 L1850.3,646.6 L1848.0,646.8 L1845.7,647.0 L1843.3,647.1 L1841.0,647.2 L1838.7,647.3 L1836.3,647.3 L1834.0,647.3Z" fill="#ddd7fd"/>
<rect x="1800" y="641.9" width="35" height="5.2" fill="#c8b4f1"/>
<circle cx="446.6" cy="398.5" r="22.9" fill="#a275e7" stroke="#e5e7eb" stroke-width="2.6"/>
<circle cx="501.9" cy="398.5" r="22.9" fill="#9c6de5" stroke="#e5e7eb" stroke-width="2.6"/>
<circle cx="557.3" cy="398.5" r="22.9" fill="#dac9f6" stroke="#e5e7eb" stroke-width="2.6"/>
<circle cx="612.6" cy="398.5" r="22.9" fill="#b694ec" stroke="#e5e7eb" stroke-width="2.6"/>
<circle cx="667.9" cy="398.5" r="22.9" fill="#b38feb" stroke="#e5e7eb" stroke-width="2.6"/>
<circle cx="723.2" cy="398.5" r="22.9" fill="#e6daf9" stroke="#e5e7eb" stroke-width="2.6"/>
<circle cx="446.6" cy="453.8" r="22.9" fill="#7c3edd" stroke="#e5e7eb" stroke-width="2.6"/>
<circle cx="501.9" cy="453.8" r="22.9" fill="#b998ed" stroke="#e5e7eb" stroke-width="2.6"/>
<circle cx="557.3" cy="453.8" r="22.9" fill="#c8adf1" stroke="#e5e7eb" stroke-width="2.6"/>
<circle cx="612.6" cy="453.8" r="22.9" fill="#ac84e9" stroke="#e5e7eb" stroke-width="2.6"/>
<circle cx="667.9" cy="453.8" r="22.9" fill="#d3bef4" stroke="#e5e7eb" stroke-width="2.6"/>
<circle cx="723.2" cy="453.8" r="22.9" fill="#b998ed" stroke="#e5e7eb" stroke-width="2.6"/>
<circle cx="446.6" cy="509.2" r="22.9" fill="#6d28d9" stroke="#e5e7eb" stroke-width="2.6"/>
<circle cx="501.9" cy="509.2" r="22.9" fill="#9360e3" stroke="#e5e7eb" stroke-width="2.6"/>
<circle cx="557.3" cy="509.2" r="22.9" fill="#9d6fe6" stroke="#e5e7eb" stroke-width="2.6"/>
<circle cx="612.6" cy="509.2" r="22.9" fill="#a77ee8" stroke="#e5e7eb" stroke-width="2.6"/>
<circle cx="667.9" cy="509.2" r="22.9" fill="#9766e4" stroke="#e5e7eb" stroke-width="2.6"/>
<circle cx="723.2" cy="509.2" r="22.9" fill="#c2a5ef" stroke="#e5e7eb" stroke-width="2.6"/>
<circle cx="446.6" cy="564.5" r="22.9" fill="#925ee2" stroke="#e5e7eb" stroke-width="2.6"/>
<circle cx="501.9" cy="564.5" r="22.9" fill="#b694ec" stroke="#e5e7eb" stroke-width="2.6"/>
<circle cx="557.3" cy="564.5" r="22.9" fill="#a77ee8" stroke="#e5e7eb" stroke-width="2.6"/>
<circle cx="612.6" cy="564.5" r="22.9" fill="#d8c5f5" stroke="#e5e7eb" stroke-width="2.6"/>
<circle cx="667.9" cy="564.5" r="22.9" fill="#d3bef4" stroke="#e5e7eb" stroke-width="2.6"/>
<circle cx="723.2" cy="564.5" r="22.9" fill="#c2a5ef" stroke="#e5e7eb" stroke-width="2.6"/>
<circle cx="446.6" cy="619.8" r="22.9" fill="#9c6de5" stroke="#e5e7eb" stroke-width="2.6"/>
<circle cx="501.9" cy="619.8" r="22.9" fill="#9968e4" stroke="#e5e7eb" stroke-width="2.6"/>
<circle cx="557.3" cy="619.8" r="22.9" fill="#a47ae7" stroke="#e5e7eb" stroke-width="2.6"/>
<circle cx="612.6" cy="619.8" r="22.9" fill="#cfb8f2" stroke="#e5e7eb" stroke-width="2.6"/>
<circle cx="667.9" cy="619.8" r="22.9" fill="#d3bef4" stroke="#e5e7eb" stroke-width="2.6"/>
<circle cx="723.2" cy="619.8" r="22.9" fill="#e9dff9" stroke="#e5e7eb" stroke-width="2.6"/>
<circle cx="446.6" cy="675.1" r="22.9" fill="#b38feb" stroke="#e5e7eb" stroke-width="2.6"/>
<circle cx="501.9" cy="675.1" r="22.9" fill="#cab2f1" stroke="#e5e7eb" stroke-width="2.6"/>
<circle cx="557.3" cy="675.1" r="22.9" fill="#af89ea" stroke="#e5e7eb" stroke-width="2.6"/>
<circle cx="612.6" cy="675.1" r="22.9" fill="#c3a7ef" stroke="#e5e7eb" stroke-width="2.6"/>
<circle cx="667.9" cy="675.1" r="22.9" fill="#ccb4f2" stroke="#e5e7eb" stroke-width="2.6"/>
<circle cx="723.2" cy="675.1" r="22.9" fill="#ffffff" stroke="#e5e7eb" stroke-width="2.6"/>
<circle cx="862.9" cy="398.5" r="22.9" fill="#c5a9f0" stroke="#e5e7eb" stroke-width="2.6"/>
<circle cx="918.2" cy="398.5" r="23.3" fill="#e5e7eb"/>
<circle cx="973.5" cy="398.5" r="23.3" fill="#e5e7eb"/>
<circle cx="1028.8" cy="398.5" r="23.3" fill="#e5e7eb"/>
<circle cx="1084.2" cy="398.5" r="23.3" fill="#e5e7eb"/>
<circle cx="1139.5" cy="398.5" r="23.3" fill="#e5e7eb"/>
<circle cx="862.9" cy="453.8" r="22.9" fill="#a47ae7" stroke="#e5e7eb" stroke-width="2.6"/>
<circle cx="918.2" cy="453.8" r="22.9" fill="#d6c3f4" stroke="#e5e7eb" stroke-width="2.6"/>
<circle cx="973.5" cy="453.8" r="23.3" fill="#e5e7eb"/>
<circle cx="1028.8" cy="453.8" r="23.3" fill="#e5e7eb"/>
<circle cx="1084.2" cy="453.8" r="23.3" fill="#e5e7eb"/>
<circle cx="1139.5" cy="453.8" r="23.3" fill="#e5e7eb"/>
<circle cx="862.9" cy="509.2" r="22.9" fill="#9664e4" stroke="#e5e7eb" stroke-width="2.6"/>
<circle cx="918.2" cy="509.2" r="22.9" fill="#b38feb" stroke="#e5e7eb" stroke-width="2.6"/>
<circle cx="973.5" cy="509.2" r="22.9" fill="#bd9eee" stroke="#e5e7eb" stroke-width="2.6"/>
<circle cx="1028.8" cy="509.2" r="23.3" fill="#e5e7eb"/>
<circle cx="1084.2" cy="509.2" r="23.3" fill="#e5e7eb"/>
<circle cx="1139.5" cy="509.2" r="23.3" fill="#e5e7eb"/>
<circle cx="862.9" cy="564.5" r="22.9" fill="#b694ec" stroke="#e5e7eb" stroke-width="2.6"/>
<circle cx="918.2" cy="564.5" r="22.9" fill="#ccb4f2" stroke="#e5e7eb" stroke-width="2.6"/>
<circle cx="973.5" cy="564.5" r="22.9" fill="#c5a9f0" stroke="#e5e7eb" stroke-width="2.6"/>
<circle cx="1028.8" cy="564.5" r="22.9" fill="#e9dff9" stroke="#e5e7eb" stroke-width="2.6"/>
<circle cx="1084.2" cy="564.5" r="23.3" fill="#e5e7eb"/>
<circle cx="1139.5" cy="564.5" r="23.3" fill="#e5e7eb"/>
<circle cx="862.9" cy="619.8" r="22.9" fill="#bd9eee" stroke="#e5e7eb" stroke-width="2.6"/>
<circle cx="918.2" cy="619.8" r="22.9" fill="#b694ec" stroke="#e5e7eb" stroke-width="2.6"/>
<circle cx="973.5" cy="619.8" r="22.9" fill="#c8adf1" stroke="#e5e7eb" stroke-width="2.6"/>
<circle cx="1028.8" cy="619.8" r="22.9" fill="#e6daf9" stroke="#e5e7eb" stroke-width="2.6"/>
<circle cx="1084.2" cy="619.8" r="22.9" fill="#e9dff9" stroke="#e5e7eb" stroke-width="2.6"/>
<circle cx="1139.5" cy="619.8" r="23.3" fill="#e5e7eb"/>
<circle cx="862.9" cy="675.1" r="22.9" fill="#d3bef4" stroke="#e5e7eb" stroke-width="2.6"/>
<circle cx="918.2" cy="675.1" r="22.9" fill="#dfd0f7" stroke="#e5e7eb" stroke-width="2.6"/>
<circle cx="973.5" cy="675.1" r="22.9" fill="#d0baf3" stroke="#e5e7eb" stroke-width="2.6"/>
<circle cx="1028.8" cy="675.1" r="22.9" fill="#dac9f6" stroke="#e5e7eb" stroke-width="2.6"/>
<circle cx="1084.2" cy="675.1" r="22.9" fill="#dfd0f7" stroke="#e5e7eb" stroke-width="2.6"/>
<circle cx="1139.5" cy="675.1" r="22.9" fill="#ffffff" stroke="#e5e7eb" stroke-width="2.6"/>
<circle cx="1279.1" cy="398.5" r="22.9" fill="#6d28d9" stroke="#e5e7eb" stroke-width="2.6"/>
<circle cx="1334.4" cy="398.5" r="23.3" fill="#e5e7eb"/>
<circle cx="1389.8" cy="398.5" r="23.3" fill="#e5e7eb"/>
<circle cx="1445.1" cy="398.5" r="23.3" fill="#e5e7eb"/>
<circle cx="1500.4" cy="398.5" r="23.3" fill="#e5e7eb"/>
<circle cx="1555.8" cy="398.5" r="23.3" fill="#e5e7eb"/>
<circle cx="1279.1" cy="453.8" r="22.9" fill="#8044de" stroke="#e5e7eb" stroke-width="2.6"/>
<circle cx="1334.4" cy="453.8" r="22.9" fill="#e9dff9" stroke="#e5e7eb" stroke-width="2.6"/>
<circle cx="1389.8" cy="453.8" r="23.3" fill="#e5e7eb"/>
<circle cx="1445.1" cy="453.8" r="23.3" fill="#e5e7eb"/>
<circle cx="1500.4" cy="453.8" r="23.3" fill="#e5e7eb"/>
<circle cx="1555.8" cy="453.8" r="23.3" fill="#e5e7eb"/>
<circle cx="1279.1" cy="509.2" r="22.9" fill="#9664e4" stroke="#e5e7eb" stroke-width="2.6"/>
<circle cx="1334.4" cy="509.2" r="22.9" fill="#dfd0f7" stroke="#e5e7eb" stroke-width="2.6"/>
<circle cx="1389.8" cy="509.2" r="22.9" fill="#ebe1fa" stroke="#e5e7eb" stroke-width="2.6"/>
<circle cx="1445.1" cy="509.2" r="23.3" fill="#e5e7eb"/>
<circle cx="1500.4" cy="509.2" r="23.3" fill="#e5e7eb"/>
<circle cx="1555.8" cy="509.2" r="23.3" fill="#e5e7eb"/>
<circle cx="1279.1" cy="564.5" r="22.9" fill="#aa82e9" stroke="#e5e7eb" stroke-width="2.6"/>
<circle cx="1334.4" cy="564.5" r="22.9" fill="#dfd0f7" stroke="#e5e7eb" stroke-width="2.6"/>
<circle cx="1389.8" cy="564.5" r="22.9" fill="#dac9f6" stroke="#e5e7eb" stroke-width="2.6"/>
<circle cx="1445.1" cy="564.5" r="22.9" fill="#f5f0fc" stroke="#e5e7eb" stroke-width="2.6"/>
<circle cx="1500.4" cy="564.5" r="23.3" fill="#e5e7eb"/>
<circle cx="1555.8" cy="564.5" r="23.3" fill="#e5e7eb"/>
<circle cx="1279.1" cy="619.8" r="22.9" fill="#d3bef4" stroke="#e5e7eb" stroke-width="2.6"/>
<circle cx="1334.4" cy="619.8" r="22.9" fill="#c8adf1" stroke="#e5e7eb" stroke-width="2.6"/>
<circle cx="1389.8" cy="619.8" r="22.9" fill="#dfd0f7" stroke="#e5e7eb" stroke-width="2.6"/>
<circle cx="1445.1" cy="619.8" r="22.9" fill="#f6f2fd" stroke="#e5e7eb" stroke-width="2.6"/>
<circle cx="1500.4" cy="619.8" r="22.9" fill="#f5f0fc" stroke="#e5e7eb" stroke-width="2.6"/>
<circle cx="1555.8" cy="619.8" r="23.3" fill="#e5e7eb"/>
<circle cx="1279.1" cy="675.1" r="22.9" fill="#d6c3f4" stroke="#e5e7eb" stroke-width="2.6"/>
<circle cx="1334.4" cy="675.1" r="22.9" fill="#e9dff9" stroke="#e5e7eb" stroke-width="2.6"/>
<circle cx="1389.8" cy="675.1" r="22.9" fill="#d3bef4" stroke="#e5e7eb" stroke-width="2.6"/>
<circle cx="1445.1" cy="675.1" r="22.9" fill="#e5d8f8" stroke="#e5e7eb" stroke-width="2.6"/>
<circle cx="1500.4" cy="675.1" r="22.9" fill="#e9dff9" stroke="#e5e7eb" stroke-width="2.6"/>
<circle cx="1555.8" cy="675.1" r="22.9" fill="#fbf9fe" stroke="#e5e7eb" stroke-width="2.6"/>
<path d="M781.5,541.4 H813.5 M804.5,532.4 L813.5,541.4 L804.5,550.4" fill="none" stroke="#d2d4da" stroke-width="4.7" stroke-linecap="round" stroke-linejoin="round"/>
<path d="M1197.8,541.4 H1229.8 M1220.8,532.4 L1229.8,541.4 L1220.8,550.4" fill="none" stroke="#d2d4da" stroke-width="4.7" stroke-linecap="round" stroke-linejoin="round"/>
<rect x="556.0" y="815.9" width="97.2" height="15.8" fill="url(#gLeg)" stroke="#e5e7eb" stroke-width="2.4"/>
<rect x="951.2" y="815.9" width="118.4" height="15.8" fill="url(#gLeg)" stroke="#e5e7eb" stroke-width="2.4"/>
<rect x="1367.2" y="815.9" width="118.5" height="15.8" fill="url(#gLeg)" stroke="#e5e7eb" stroke-width="2.4"/>
<text class="mono" x="446.35" y="834.6" fill="#3e4a5c" stroke="#3e4a5c" textLength="97.64" lengthAdjust="spacingAndGlyphs">−25.3</text>
<text class="mono" x="664.60" y="834.6" fill="#3e4a5c" stroke="#3e4a5c" textLength="58.41" lengthAdjust="spacingAndGlyphs">7.4</text>
<text class="mono" x="862.52" y="834.6" fill="#3e4a5c" stroke="#3e4a5c" textLength="78.57" lengthAdjust="spacingAndGlyphs">−3.0</text>
<text class="mono" x="1080.00" y="834.6" fill="#3e4a5c" stroke="#3e4a5c" textLength="59.64" lengthAdjust="spacingAndGlyphs">3.0</text>
<text class="mono" x="1277.73" y="834.6" fill="#3e4a5c" stroke="#3e4a5c" textLength="79.15" lengthAdjust="spacingAndGlyphs">−1.0</text>
<text class="mono" x="1498.03" y="834.6" fill="#3e4a5c" stroke="#3e4a5c" textLength="56.56" lengthAdjust="spacingAndGlyphs">1.0</text>
<text class="title" x="457.24" y="773.8" fill="#9aa1ad" stroke="#9aa1ad" textLength="252.67" lengthAdjust="spacingAndGlyphs">Dot product</text>
<text class="title" x="848.38" y="773.8" fill="#9aa1ad" stroke="#9aa1ad" textLength="303.73" lengthAdjust="spacingAndGlyphs">Scaling · Mask</text>
<text class="title" x="1224.49" y="773.8" fill="#9aa1ad" stroke="#9aa1ad" textLength="382.61" lengthAdjust="spacingAndGlyphs">Softmax · Dropout</text>
<text class="lbl" x="246.65" y="85.9" fill="#f8a5a5" stroke="#f8a5a5" textLength="62.16" lengthAdjust="spacingAndGlyphs">Key</text>
<text class="lbl" x="225.56" y="468.7" fill="#9dc3f9" stroke="#9dc3f9" textLength="104.05" lengthAdjust="spacingAndGlyphs">Query</text>
<text class="lbl" x="231.23" y="851.9" fill="#6fd5a5" stroke="#6fd5a5" textLength="93.78" lengthAdjust="spacingAndGlyphs">Value</text>
<text class="lbl" x="1785.25" y="468.8" fill="#c4adef" stroke="#c4adef" textLength="62.45" lengthAdjust="spacingAndGlyphs">Out</text>
<text class="tok" x="151.86" y="126.25" fill="#3e4a5c" stroke="#3e4a5c" textLength="69.14" lengthAdjust="spacingAndGlyphs">Data</text>
<text class="tok" x="33.58" y="155.35" fill="#3e4a5c" stroke="#3e4a5c" textLength="189.05" lengthAdjust="spacingAndGlyphs">visualization</text>
<text class="tok" x="176.93" y="184.45" fill="#3e4a5c" stroke="#3e4a5c" textLength="46.72" lengthAdjust="spacingAndGlyphs">em</text>
<text class="tok" x="111.73" y="213.55" fill="#3e4a5c" stroke="#3e4a5c" textLength="111.21" lengthAdjust="spacingAndGlyphs">powers</text>
<text class="tok" x="139.24" y="242.65" fill="#3e4a5c" stroke="#3e4a5c" textLength="82.80" lengthAdjust="spacingAndGlyphs">users</text>
<text class="tok" x="193.30" y="271.75" fill="#3e4a5c" stroke="#3e4a5c" textLength="29.78" lengthAdjust="spacingAndGlyphs">to</text>
<text class="tok" x="151.86" y="510.7" fill="#3e4a5c" stroke="#3e4a5c" textLength="69.14" lengthAdjust="spacingAndGlyphs">Data</text>
<text class="tok" x="33.58" y="539.8" fill="#3e4a5c" stroke="#3e4a5c" textLength="189.05" lengthAdjust="spacingAndGlyphs">visualization</text>
<text class="tok" x="176.93" y="568.9" fill="#3e4a5c" stroke="#3e4a5c" textLength="46.72" lengthAdjust="spacingAndGlyphs">em</text>
<text class="tok" x="111.73" y="598.0" fill="#3e4a5c" stroke="#3e4a5c" textLength="111.21" lengthAdjust="spacingAndGlyphs">powers</text>
<text class="tok" x="139.24" y="627.1" fill="#3e4a5c" stroke="#3e4a5c" textLength="82.80" lengthAdjust="spacingAndGlyphs">users</text>
<text class="tok" x="193.30" y="656.2" fill="#3e4a5c" stroke="#3e4a5c" textLength="29.78" lengthAdjust="spacingAndGlyphs">to</text>
<text class="tok" x="151.86" y="894.1" fill="#3e4a5c" stroke="#3e4a5c" textLength="69.14" lengthAdjust="spacingAndGlyphs">Data</text>
<text class="tok" x="33.58" y="923.2" fill="#3e4a5c" stroke="#3e4a5c" textLength="189.05" lengthAdjust="spacingAndGlyphs">visualization</text>
<text class="tok" x="176.93" y="952.3" fill="#3e4a5c" stroke="#3e4a5c" textLength="46.72" lengthAdjust="spacingAndGlyphs">em</text>
<text class="tok" x="111.73" y="981.4" fill="#3e4a5c" stroke="#3e4a5c" textLength="111.21" lengthAdjust="spacingAndGlyphs">powers</text>
<text class="tok" x="139.24" y="1010.5" fill="#3e4a5c" stroke="#3e4a5c" textLength="82.80" lengthAdjust="spacingAndGlyphs">users</text>
<text class="tok" x="193.30" y="1039.6" fill="#3e4a5c" stroke="#3e4a5c" textLength="29.78" lengthAdjust="spacingAndGlyphs">to</text>
</svg></body></html>
